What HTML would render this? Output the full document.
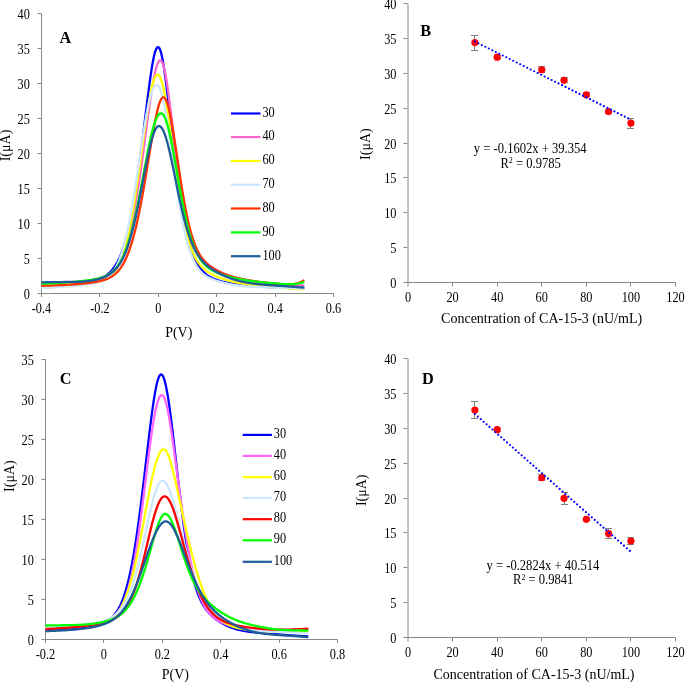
<!DOCTYPE html>
<html><head><meta charset="utf-8"><title>CA-15-3 DPV figure</title>
<style>
html,body{margin:0;padding:0;background:#fff;}
body{width:685px;height:682px;overflow:hidden;}
svg{display:block;will-change:transform;}
text{font-family:"Liberation Serif",serif;fill:#000;}
</style></head>
<body>
<svg width="685" height="682" viewBox="0 0 685 682">
<rect width="685" height="682" fill="#fff"/>
<path d="M41.5,13.5 V297.0" stroke="#888888" stroke-width="1" fill="none"/>
<path d="M37.5,293.5 H333.5 V297.0" stroke="#888888" stroke-width="1" fill="none"/>
<text transform="translate(29.80,299.00) scale(1,1.1)" font-size="12.3" text-anchor="end" font-weight="normal" >0</text>
<path d="M37.5,258.5 H41.5" stroke="#888888" stroke-width="1"/>
<text transform="translate(29.80,264.00) scale(1,1.1)" font-size="12.3" text-anchor="end" font-weight="normal" >5</text>
<path d="M37.5,223.5 H41.5" stroke="#888888" stroke-width="1"/>
<text transform="translate(29.80,229.00) scale(1,1.1)" font-size="12.3" text-anchor="end" font-weight="normal" >10</text>
<path d="M37.5,188.5 H41.5" stroke="#888888" stroke-width="1"/>
<text transform="translate(29.80,194.00) scale(1,1.1)" font-size="12.3" text-anchor="end" font-weight="normal" >15</text>
<path d="M37.5,153.5 H41.5" stroke="#888888" stroke-width="1"/>
<text transform="translate(29.80,159.00) scale(1,1.1)" font-size="12.3" text-anchor="end" font-weight="normal" >20</text>
<path d="M37.5,118.5 H41.5" stroke="#888888" stroke-width="1"/>
<text transform="translate(29.80,124.00) scale(1,1.1)" font-size="12.3" text-anchor="end" font-weight="normal" >25</text>
<path d="M37.5,83.5 H41.5" stroke="#888888" stroke-width="1"/>
<text transform="translate(29.80,89.00) scale(1,1.1)" font-size="12.3" text-anchor="end" font-weight="normal" >30</text>
<path d="M37.5,48.5 H41.5" stroke="#888888" stroke-width="1"/>
<text transform="translate(29.80,54.00) scale(1,1.1)" font-size="12.3" text-anchor="end" font-weight="normal" >35</text>
<path d="M37.5,13.5 H41.5" stroke="#888888" stroke-width="1"/>
<text transform="translate(29.80,19.00) scale(1,1.1)" font-size="12.3" text-anchor="end" font-weight="normal" >40</text>
<text transform="translate(41.50,312.90) scale(1,1.1)" font-size="12.3" text-anchor="middle" font-weight="normal" >-0.4</text>
<path d="M99.5,293.5 V297.0" stroke="#888888" stroke-width="1"/>
<text transform="translate(99.90,312.90) scale(1,1.1)" font-size="12.3" text-anchor="middle" font-weight="normal" >-0.2</text>
<path d="M158.5,293.5 V297.0" stroke="#888888" stroke-width="1"/>
<text transform="translate(158.30,312.90) scale(1,1.1)" font-size="12.3" text-anchor="middle" font-weight="normal" >0</text>
<path d="M216.5,293.5 V297.0" stroke="#888888" stroke-width="1"/>
<text transform="translate(216.70,312.90) scale(1,1.1)" font-size="12.3" text-anchor="middle" font-weight="normal" >0.2</text>
<path d="M275.5,293.5 V297.0" stroke="#888888" stroke-width="1"/>
<text transform="translate(275.10,312.90) scale(1,1.1)" font-size="12.3" text-anchor="middle" font-weight="normal" >0.4</text>
<text transform="translate(333.50,312.90) scale(1,1.1)" font-size="12.3" text-anchor="middle" font-weight="normal" >0.6</text>
<text x="178.75" y="336.70" font-size="14" text-anchor="middle" font-weight="normal" >P(V)</text>
<text transform="translate(9.8,145.5) rotate(-90)" font-size="14" text-anchor="middle">I(μA)</text>
<text x="59.50" y="42.60" font-size="16.3" text-anchor="start" font-weight="bold" >A</text>
<path d="M41.50,287.55 L42.23,287.51 L42.96,287.47 L43.69,287.43 L44.42,287.39 L45.15,287.35 L45.88,287.31 L46.61,287.27 L47.34,287.22 L48.07,287.18 L48.80,287.13 L49.53,287.09 L50.26,287.04 L50.99,286.99 L51.72,286.95 L52.45,286.90 L53.18,286.85 L53.91,286.79 L54.64,286.74 L55.37,286.69 L56.10,286.63 L56.83,286.58 L57.56,286.52 L58.29,286.46 L59.02,286.40 L59.75,286.34 L60.48,286.28 L61.21,286.22 L61.94,286.15 L62.67,286.09 L63.40,286.02 L64.13,285.95 L64.86,285.88 L65.59,285.81 L66.32,285.74 L67.05,285.66 L67.78,285.58 L68.51,285.51 L69.24,285.43 L69.97,285.34 L70.70,285.26 L71.43,285.17 L72.16,285.09 L72.89,284.99 L73.62,284.90 L74.35,284.81 L75.08,284.71 L75.81,284.61 L76.54,284.51 L77.27,284.40 L78.00,284.30 L78.73,284.19 L79.46,284.07 L80.19,283.96 L80.92,283.84 L81.65,283.71 L82.38,283.59 L83.11,283.46 L83.84,283.32 L84.57,283.19 L85.30,283.04 L86.03,282.90 L86.76,282.75 L87.49,282.59 L88.22,282.43 L88.95,282.26 L89.68,282.09 L90.41,281.91 L91.14,281.73 L91.87,281.53 L92.60,281.33 L93.33,281.13 L94.06,280.91 L94.79,280.69 L95.52,280.45 L96.25,280.21 L96.98,279.95 L97.71,279.68 L98.44,279.40 L99.17,279.11 L99.90,278.80 L100.63,278.47 L101.36,278.13 L102.09,277.77 L102.82,277.39 L103.55,276.99 L104.28,276.56 L105.01,276.11 L105.74,275.63 L106.47,275.12 L107.20,274.58 L107.93,274.00 L108.66,273.39 L109.39,272.74 L110.12,272.04 L110.85,271.30 L111.58,270.52 L112.31,269.68 L113.04,268.78 L113.77,267.82 L114.50,266.80 L115.23,265.71 L115.96,264.56 L116.69,263.32 L117.42,262.00 L118.15,260.60 L118.88,259.11 L119.61,257.53 L120.34,255.84 L121.07,254.05 L121.80,252.15 L122.53,250.14 L123.26,248.01 L123.99,245.76 L124.72,243.37 L125.45,240.86 L126.18,238.21 L126.91,235.42 L127.64,232.49 L128.37,229.41 L129.10,226.17 L129.83,222.79 L130.56,219.25 L131.29,215.55 L132.02,211.70 L132.75,207.69 L133.48,203.51 L134.21,199.18 L134.94,194.69 L135.67,190.05 L136.40,185.25 L137.13,180.30 L137.86,175.21 L138.59,169.98 L139.32,164.62 L140.05,159.13 L140.78,153.53 L141.51,147.82 L142.24,142.03 L142.97,136.15 L143.70,130.22 L144.43,124.24 L145.16,118.25 L145.89,112.26 L146.62,106.30 L147.35,100.41 L148.08,94.60 L148.81,88.94 L149.54,83.44 L150.27,78.16 L151.00,73.14 L151.73,68.42 L152.46,64.06 L153.19,60.10 L153.92,56.59 L154.65,53.58 L155.38,51.09 L156.11,49.17 L156.84,47.84 L157.57,47.13 L158.30,47.04 L159.03,47.63 L159.76,48.89 L160.49,50.81 L161.22,53.36 L161.95,56.50 L162.68,60.18 L163.41,64.36 L164.14,68.98 L164.87,73.99 L165.60,79.32 L166.33,84.94 L167.06,90.79 L167.79,96.81 L168.52,102.97 L169.25,109.22 L169.98,115.53 L170.71,121.86 L171.44,128.18 L172.17,134.46 L172.90,140.69 L173.63,146.84 L174.36,152.89 L175.09,158.82 L175.82,164.64 L176.55,170.31 L177.28,175.83 L178.01,181.20 L178.74,186.41 L179.47,191.45 L180.20,196.31 L180.93,201.00 L181.66,205.52 L182.39,209.85 L183.12,214.01 L183.85,217.98 L184.58,221.78 L185.31,225.40 L186.04,228.85 L186.77,232.13 L187.50,235.25 L188.23,238.20 L188.96,240.99 L189.69,243.64 L190.42,246.13 L191.15,248.48 L191.88,250.69 L192.61,252.77 L193.34,254.73 L194.07,256.56 L194.80,258.28 L195.53,259.89 L196.26,261.40 L196.99,262.81 L197.72,264.13 L198.45,265.36 L199.18,266.51 L199.91,267.59 L200.64,268.59 L201.37,269.52 L202.10,270.40 L202.83,271.21 L203.56,271.97 L204.29,272.69 L205.02,273.35 L205.75,273.97 L206.48,274.56 L207.21,275.10 L207.94,275.61 L208.67,276.09 L209.40,276.55 L210.13,276.97 L210.86,277.37 L211.59,277.75 L212.32,278.11 L213.05,278.44 L213.78,278.76 L214.51,279.07 L215.24,279.36 L215.97,279.63 L216.70,279.89 L217.43,280.14 L218.16,280.38 L218.89,280.61 L219.62,280.83 L220.35,281.04 L221.08,281.24 L221.81,281.44 L222.54,281.62 L223.27,281.80 L224.00,281.98 L224.73,282.15 L225.46,282.31 L226.19,282.47 L226.92,282.62 L227.65,282.76 L228.38,282.91 L229.11,283.05 L229.84,283.18 L230.57,283.31 L231.30,283.44 L232.03,283.56 L232.76,283.68 L233.49,283.80 L234.22,283.91 L234.95,284.02 L235.68,284.13 L236.41,284.23 L237.14,284.33 L237.87,284.43 L238.60,284.53 L239.33,284.62 L240.06,284.71 L240.79,284.80 L241.52,284.89 L242.25,284.98 L242.98,285.06 L243.71,285.14 L244.44,285.22 L245.17,285.30 L245.90,285.37 L246.63,285.45 L247.36,285.52 L248.09,285.59 L248.82,285.66 L249.55,285.72 L250.28,285.79 L251.01,285.85 L251.74,285.91 L252.47,285.98 L253.20,286.04 L253.93,286.09 L254.66,286.15 L255.39,286.21 L256.12,286.26 L256.85,286.31 L257.58,286.37 L258.31,286.42 L259.04,286.47 L259.77,286.52 L260.50,286.56 L261.23,286.61 L261.96,286.66 L262.69,286.70 L263.42,286.75 L264.15,286.79 L264.88,286.83 L265.61,286.87 L266.34,286.91 L267.07,286.95 L267.80,286.99 L268.53,287.03 L269.26,287.07 L269.99,287.11 L270.72,287.14 L271.45,287.18 L272.18,287.21 L272.91,287.25 L273.64,287.28 L274.37,287.31 L275.10,287.34 L275.83,287.37 L276.56,287.41 L277.29,287.44 L278.02,287.47 L278.75,287.50 L279.48,287.52 L280.21,287.55 L280.94,287.58 L281.67,287.61 L282.40,287.63 L283.13,287.66 L283.86,287.69 L284.59,287.71 L285.32,287.74 L286.05,287.76 L286.78,287.78 L287.51,287.81 L288.24,287.83 L288.97,287.85 L289.70,287.87 L290.43,287.90 L291.16,287.92 L291.89,287.94 L292.62,287.96 L293.35,287.98 L294.08,288.00 L294.81,288.02 L295.54,288.04 L296.27,288.06 L297.00,288.08 L297.73,288.10 L298.46,288.11 L299.19,288.13 L299.92,288.15 L300.65,288.17 L301.38,288.18 L302.11,288.20 L302.84,288.22 L303.57,288.23 L304.30,288.25" stroke="#0000ff" stroke-width="2.3" fill="none" stroke-linejoin="round"/>
<path d="M41.50,286.85 L42.23,286.81 L42.96,286.78 L43.69,286.74 L44.42,286.70 L45.15,286.67 L45.88,286.63 L46.61,286.59 L47.34,286.55 L48.07,286.51 L48.80,286.47 L49.53,286.42 L50.26,286.38 L50.99,286.34 L51.72,286.29 L52.45,286.25 L53.18,286.20 L53.91,286.15 L54.64,286.11 L55.37,286.06 L56.10,286.01 L56.83,285.96 L57.56,285.90 L58.29,285.85 L59.02,285.80 L59.75,285.74 L60.48,285.69 L61.21,285.63 L61.94,285.57 L62.67,285.51 L63.40,285.45 L64.13,285.39 L64.86,285.32 L65.59,285.26 L66.32,285.19 L67.05,285.12 L67.78,285.05 L68.51,284.98 L69.24,284.91 L69.97,284.84 L70.70,284.76 L71.43,284.68 L72.16,284.60 L72.89,284.52 L73.62,284.44 L74.35,284.35 L75.08,284.27 L75.81,284.18 L76.54,284.09 L77.27,283.99 L78.00,283.90 L78.73,283.80 L79.46,283.70 L80.19,283.60 L80.92,283.49 L81.65,283.38 L82.38,283.27 L83.11,283.16 L83.84,283.04 L84.57,282.92 L85.30,282.79 L86.03,282.66 L86.76,282.53 L87.49,282.40 L88.22,282.26 L88.95,282.11 L89.68,281.96 L90.41,281.81 L91.14,281.65 L91.87,281.49 L92.60,281.32 L93.33,281.14 L94.06,280.96 L94.79,280.77 L95.52,280.57 L96.25,280.36 L96.98,280.15 L97.71,279.93 L98.44,279.69 L99.17,279.45 L99.90,279.19 L100.63,278.92 L101.36,278.64 L102.09,278.35 L102.82,278.03 L103.55,277.70 L104.28,277.36 L105.01,276.99 L105.74,276.60 L106.47,276.18 L107.20,275.75 L107.93,275.28 L108.66,274.78 L109.39,274.26 L110.12,273.69 L110.85,273.09 L111.58,272.45 L112.31,271.77 L113.04,271.04 L113.77,270.26 L114.50,269.42 L115.23,268.53 L115.96,267.58 L116.69,266.56 L117.42,265.48 L118.15,264.32 L118.88,263.08 L119.61,261.75 L120.34,260.34 L121.07,258.84 L121.80,257.24 L122.53,255.54 L123.26,253.73 L123.99,251.82 L124.72,249.78 L125.45,247.62 L126.18,245.34 L126.91,242.93 L127.64,240.39 L128.37,237.71 L129.10,234.89 L129.83,231.92 L130.56,228.81 L131.29,225.55 L132.02,222.14 L132.75,218.58 L133.48,214.87 L134.21,211.01 L134.94,207.00 L135.67,202.84 L136.40,198.53 L137.13,194.08 L137.86,189.50 L138.59,184.78 L139.32,179.93 L140.05,174.97 L140.78,169.89 L141.51,164.72 L142.24,159.45 L142.97,154.11 L143.70,148.70 L144.43,143.24 L145.16,137.75 L145.89,132.25 L146.62,126.76 L147.35,121.29 L148.08,115.88 L148.81,110.54 L149.54,105.31 L150.27,100.22 L151.00,95.28 L151.73,90.55 L152.46,86.04 L153.19,81.79 L153.92,77.84 L154.65,74.21 L155.38,70.95 L156.11,68.08 L156.84,65.62 L157.57,63.61 L158.30,62.06 L159.03,60.99 L159.76,60.41 L160.49,60.33 L161.22,60.82 L161.95,61.89 L162.68,63.52 L163.41,65.70 L164.14,68.41 L164.87,71.62 L165.60,75.31 L166.33,79.43 L167.06,83.96 L167.79,88.85 L168.52,94.06 L169.25,99.54 L169.98,105.26 L170.71,111.17 L171.44,117.22 L172.17,123.37 L172.90,129.59 L173.63,135.83 L174.36,142.05 L175.09,148.22 L175.82,154.32 L176.55,160.30 L177.28,166.15 L178.01,171.84 L178.74,177.36 L179.47,182.68 L180.20,187.80 L180.93,192.71 L181.66,197.40 L182.39,201.87 L183.12,206.11 L183.85,210.12 L184.58,213.91 L185.31,217.49 L186.04,220.86 L186.77,224.01 L187.50,226.98 L188.23,229.75 L188.96,232.35 L189.69,234.77 L190.42,237.04 L191.15,239.15 L191.88,241.13 L192.61,242.98 L193.34,244.70 L194.07,246.32 L194.80,247.83 L195.53,249.24 L196.26,250.57 L196.99,251.82 L197.72,253.00 L198.45,254.11 L199.18,255.15 L199.91,256.14 L200.64,257.08 L201.37,257.97 L202.10,258.82 L202.83,259.63 L203.56,260.40 L204.29,261.14 L205.02,261.85 L205.75,262.53 L206.48,263.18 L207.21,263.80 L207.94,264.41 L208.67,264.99 L209.40,265.55 L210.13,266.09 L210.86,266.61 L211.59,267.12 L212.32,267.61 L213.05,268.08 L213.78,268.54 L214.51,268.98 L215.24,269.41 L215.97,269.83 L216.70,270.24 L217.43,270.63 L218.16,271.01 L218.89,271.38 L219.62,271.74 L220.35,272.09 L221.08,272.43 L221.81,272.76 L222.54,273.09 L223.27,273.40 L224.00,273.70 L224.73,274.00 L225.46,274.29 L226.19,274.57 L226.92,274.84 L227.65,275.10 L228.38,275.36 L229.11,275.61 L229.84,275.86 L230.57,276.10 L231.30,276.33 L232.03,276.56 L232.76,276.78 L233.49,276.99 L234.22,277.20 L234.95,277.41 L235.68,277.61 L236.41,277.80 L237.14,277.99 L237.87,278.18 L238.60,278.36 L239.33,278.54 L240.06,278.71 L240.79,278.88 L241.52,279.04 L242.25,279.20 L242.98,279.36 L243.71,279.51 L244.44,279.66 L245.17,279.81 L245.90,279.95 L246.63,280.09 L247.36,280.23 L248.09,280.36 L248.82,280.49 L249.55,280.62 L250.28,280.75 L251.01,280.87 L251.74,280.99 L252.47,281.11 L253.20,281.22 L253.93,281.33 L254.66,281.44 L255.39,281.55 L256.12,281.66 L256.85,281.76 L257.58,281.86 L258.31,281.96 L259.04,282.06 L259.77,282.15 L260.50,282.24 L261.23,282.34 L261.96,282.43 L262.69,282.51 L263.42,282.60 L264.15,282.68 L264.88,282.77 L265.61,282.85 L266.34,282.93 L267.07,283.00 L267.80,283.08 L268.53,283.16 L269.26,283.23 L269.99,283.30 L270.72,283.37 L271.45,283.44 L272.18,283.51 L272.91,283.58 L273.64,283.64 L274.37,283.71 L275.10,283.77 L275.83,283.83 L276.56,283.89 L277.29,283.95 L278.02,284.01 L278.75,284.07 L279.48,284.13 L280.21,284.18 L280.94,284.24 L281.67,284.29 L282.40,284.35 L283.13,284.40 L283.86,284.45 L284.59,284.50 L285.32,284.55 L286.05,284.60 L286.78,284.65 L287.51,284.69 L288.24,284.74 L288.97,284.79 L289.70,284.83 L290.43,284.87 L291.16,284.92 L291.89,284.96 L292.62,285.00 L293.35,285.04 L294.08,285.08 L294.81,285.12 L295.54,285.16 L296.27,285.20 L297.00,285.24 L297.73,285.28 L298.46,285.31 L299.19,285.35 L299.92,285.39 L300.65,285.42 L301.38,285.46 L302.11,285.49 L302.84,285.52 L303.57,285.56 L304.30,285.59" stroke="#ff66cc" stroke-width="2.3" fill="none" stroke-linejoin="round"/>
<path d="M41.50,287.55 L42.23,287.53 L42.96,287.50 L43.69,287.48 L44.42,287.46 L45.15,287.43 L45.88,287.41 L46.61,287.38 L47.34,287.35 L48.07,287.33 L48.80,287.30 L49.53,287.27 L50.26,287.24 L50.99,287.21 L51.72,287.18 L52.45,287.15 L53.18,287.11 L53.91,287.08 L54.64,287.05 L55.37,287.01 L56.10,286.98 L56.83,286.94 L57.56,286.90 L58.29,286.87 L59.02,286.83 L59.75,286.79 L60.48,286.75 L61.21,286.70 L61.94,286.66 L62.67,286.62 L63.40,286.57 L64.13,286.52 L64.86,286.48 L65.59,286.43 L66.32,286.38 L67.05,286.33 L67.78,286.27 L68.51,286.22 L69.24,286.17 L69.97,286.11 L70.70,286.05 L71.43,285.99 L72.16,285.93 L72.89,285.87 L73.62,285.80 L74.35,285.74 L75.08,285.67 L75.81,285.60 L76.54,285.53 L77.27,285.45 L78.00,285.38 L78.73,285.30 L79.46,285.22 L80.19,285.14 L80.92,285.05 L81.65,284.96 L82.38,284.87 L83.11,284.78 L83.84,284.69 L84.57,284.59 L85.30,284.49 L86.03,284.38 L86.76,284.28 L87.49,284.17 L88.22,284.05 L88.95,283.93 L89.68,283.81 L90.41,283.68 L91.14,283.55 L91.87,283.41 L92.60,283.27 L93.33,283.12 L94.06,282.97 L94.79,282.80 L95.52,282.63 L96.25,282.46 L96.98,282.27 L97.71,282.07 L98.44,281.86 L99.17,281.65 L99.90,281.41 L100.63,281.17 L101.36,280.91 L102.09,280.63 L102.82,280.33 L103.55,280.02 L104.28,279.68 L105.01,279.32 L105.74,278.93 L106.47,278.51 L107.20,278.06 L107.93,277.58 L108.66,277.06 L109.39,276.50 L110.12,275.89 L110.85,275.24 L111.58,274.54 L112.31,273.78 L113.04,272.96 L113.77,272.08 L114.50,271.14 L115.23,270.11 L115.96,269.01 L116.69,267.83 L117.42,266.56 L118.15,265.20 L118.88,263.74 L119.61,262.17 L120.34,260.50 L121.07,258.71 L121.80,256.80 L122.53,254.76 L123.26,252.60 L123.99,250.31 L124.72,247.87 L125.45,245.29 L126.18,242.57 L126.91,239.70 L127.64,236.68 L128.37,233.50 L129.10,230.17 L129.83,226.68 L130.56,223.04 L131.29,219.24 L132.02,215.29 L132.75,211.19 L133.48,206.95 L134.21,202.56 L134.94,198.03 L135.67,193.37 L136.40,188.59 L137.13,183.70 L137.86,178.71 L138.59,173.63 L139.32,168.47 L140.05,163.25 L140.78,157.98 L141.51,152.68 L142.24,147.37 L142.97,142.07 L143.70,136.79 L144.43,131.57 L145.16,126.43 L145.89,121.38 L146.62,116.46 L147.35,111.68 L148.08,107.09 L148.81,102.69 L149.54,98.53 L150.27,94.62 L151.00,91.00 L151.73,87.68 L152.46,84.70 L153.19,82.06 L153.92,79.80 L154.65,77.93 L155.38,76.46 L156.11,75.42 L156.84,74.79 L157.57,74.60 L158.30,74.84 L159.03,75.51 L159.76,76.60 L160.49,78.11 L161.22,80.02 L161.95,82.34 L162.68,85.03 L163.41,88.08 L164.14,91.47 L164.87,95.19 L165.60,99.20 L166.33,103.48 L167.06,108.01 L167.79,112.75 L168.52,117.68 L169.25,122.77 L169.98,127.99 L170.71,133.31 L171.44,138.70 L172.17,144.14 L172.90,149.60 L173.63,155.05 L174.36,160.48 L175.09,165.85 L175.82,171.15 L176.55,176.36 L177.28,181.46 L178.01,186.44 L178.74,191.29 L179.47,195.99 L180.20,200.53 L180.93,204.91 L181.66,209.12 L182.39,213.16 L183.12,217.02 L183.85,220.71 L184.58,224.22 L185.31,227.55 L186.04,230.71 L186.77,233.69 L187.50,236.51 L188.23,239.17 L188.96,241.67 L189.69,244.02 L190.42,246.23 L191.15,248.30 L191.88,250.23 L192.61,252.05 L193.34,253.74 L194.07,255.32 L194.80,256.80 L195.53,258.18 L196.26,259.47 L196.99,260.67 L197.72,261.80 L198.45,262.85 L199.18,263.84 L199.91,264.76 L200.64,265.62 L201.37,266.44 L202.10,267.20 L202.83,267.92 L203.56,268.59 L204.29,269.23 L205.02,269.84 L205.75,270.41 L206.48,270.96 L207.21,271.47 L207.94,271.97 L208.67,272.44 L209.40,272.89 L210.13,273.32 L210.86,273.73 L211.59,274.13 L212.32,274.51 L213.05,274.88 L213.78,275.23 L214.51,275.58 L215.24,275.91 L215.97,276.23 L216.70,276.54 L217.43,276.84 L218.16,277.13 L218.89,277.42 L219.62,277.69 L220.35,277.96 L221.08,278.22 L221.81,278.48 L222.54,278.73 L223.27,278.97 L224.00,279.20 L224.73,279.43 L225.46,279.65 L226.19,279.87 L226.92,280.08 L227.65,280.29 L228.38,280.49 L229.11,280.69 L229.84,280.89 L230.57,281.07 L231.30,281.26 L232.03,281.44 L232.76,281.61 L233.49,281.78 L234.22,281.95 L234.95,282.12 L235.68,282.28 L236.41,282.43 L237.14,282.59 L237.87,282.74 L238.60,282.88 L239.33,283.03 L240.06,283.17 L240.79,283.31 L241.52,283.44 L242.25,283.57 L242.98,283.70 L243.71,283.83 L244.44,283.95 L245.17,284.07 L245.90,284.19 L246.63,284.31 L247.36,284.42 L248.09,284.54 L248.82,284.65 L249.55,284.75 L250.28,284.86 L251.01,284.96 L251.74,285.06 L252.47,285.16 L253.20,285.26 L253.93,285.36 L254.66,285.45 L255.39,285.54 L256.12,285.63 L256.85,285.72 L257.58,285.81 L258.31,285.90 L259.04,285.98 L259.77,286.06 L260.50,286.15 L261.23,286.23 L261.96,286.30 L262.69,286.38 L263.42,286.46 L264.15,286.53 L264.88,286.61 L265.61,286.68 L266.34,286.75 L267.07,286.82 L267.80,286.89 L268.53,286.96 L269.26,287.02 L269.99,287.09 L270.72,287.15 L271.45,287.22 L272.18,287.28 L272.91,287.34 L273.64,287.40 L274.37,287.46 L275.10,287.52 L275.83,287.58 L276.56,287.63 L277.29,287.69 L278.02,287.74 L278.75,287.80 L279.48,287.85 L280.21,287.90 L280.94,287.96 L281.67,288.01 L282.40,288.06 L283.13,288.11 L283.86,288.16 L284.59,288.21 L285.32,288.25 L286.05,288.30 L286.78,288.35 L287.51,288.39 L288.24,288.44 L288.97,288.48 L289.70,288.53 L290.43,288.57 L291.16,288.61 L291.89,288.66 L292.62,288.70 L293.35,288.74 L294.08,288.78 L294.81,288.82 L295.54,288.86 L296.27,288.90 L297.00,288.94 L297.73,288.98 L298.46,289.01 L299.19,289.05 L299.92,289.09 L300.65,289.12 L301.38,289.16 L302.11,289.20 L302.84,289.23 L303.57,289.27 L304.30,289.30" stroke="#ffff00" stroke-width="2.3" fill="none" stroke-linejoin="round"/>
<path d="M41.50,287.90 L42.23,287.87 L42.96,287.84 L43.69,287.81 L44.42,287.78 L45.15,287.75 L45.88,287.72 L46.61,287.69 L47.34,287.66 L48.07,287.63 L48.80,287.59 L49.53,287.56 L50.26,287.52 L50.99,287.49 L51.72,287.45 L52.45,287.41 L53.18,287.38 L53.91,287.34 L54.64,287.30 L55.37,287.26 L56.10,287.22 L56.83,287.18 L57.56,287.13 L58.29,287.09 L59.02,287.04 L59.75,287.00 L60.48,286.95 L61.21,286.91 L61.94,286.86 L62.67,286.81 L63.40,286.76 L64.13,286.71 L64.86,286.65 L65.59,286.60 L66.32,286.54 L67.05,286.49 L67.78,286.43 L68.51,286.37 L69.24,286.31 L69.97,286.25 L70.70,286.19 L71.43,286.13 L72.16,286.06 L72.89,286.00 L73.62,285.93 L74.35,285.86 L75.08,285.79 L75.81,285.72 L76.54,285.64 L77.27,285.57 L78.00,285.49 L78.73,285.42 L79.46,285.34 L80.19,285.26 L80.92,285.17 L81.65,285.09 L82.38,285.00 L83.11,284.91 L83.84,284.82 L84.57,284.73 L85.30,284.64 L86.03,284.54 L86.76,284.44 L87.49,284.34 L88.22,284.24 L88.95,284.13 L89.68,284.02 L90.41,283.91 L91.14,283.79 L91.87,283.66 L92.60,283.53 L93.33,283.40 L94.06,283.26 L94.79,283.11 L95.52,282.95 L96.25,282.78 L96.98,282.61 L97.71,282.42 L98.44,282.22 L99.17,282.00 L99.90,281.77 L100.63,281.52 L101.36,281.25 L102.09,280.96 L102.82,280.64 L103.55,280.30 L104.28,279.93 L105.01,279.53 L105.74,279.09 L106.47,278.61 L107.20,278.09 L107.93,277.53 L108.66,276.92 L109.39,276.26 L110.12,275.53 L110.85,274.75 L111.58,273.91 L112.31,272.99 L113.04,272.00 L113.77,270.93 L114.50,269.78 L115.23,268.54 L115.96,267.20 L116.69,265.77 L117.42,264.24 L118.15,262.59 L118.88,260.84 L119.61,258.97 L120.34,256.98 L121.07,254.86 L121.80,252.62 L122.53,250.25 L123.26,247.74 L123.99,245.09 L124.72,242.30 L125.45,239.37 L126.18,236.30 L126.91,233.09 L127.64,229.73 L128.37,226.24 L129.10,222.60 L129.83,218.82 L130.56,214.91 L131.29,210.87 L132.02,206.70 L132.75,202.42 L133.48,198.02 L134.21,193.52 L134.94,188.92 L135.67,184.24 L136.40,179.48 L137.13,174.66 L137.86,169.80 L138.59,164.90 L139.32,159.99 L140.05,155.07 L140.78,150.18 L141.51,145.32 L142.24,140.52 L142.97,135.79 L143.70,131.16 L144.43,126.64 L145.16,122.27 L145.89,118.05 L146.62,114.01 L147.35,110.16 L148.08,106.53 L148.81,103.13 L149.54,99.99 L150.27,97.10 L151.00,94.50 L151.73,92.18 L152.46,90.17 L153.19,88.47 L153.92,87.09 L154.65,86.04 L155.38,85.33 L156.11,84.96 L156.84,84.93 L157.57,85.28 L158.30,86.00 L159.03,87.09 L159.76,88.56 L160.49,90.39 L161.22,92.57 L161.95,95.10 L162.68,97.95 L163.41,101.12 L164.14,104.58 L164.87,108.32 L165.60,112.32 L166.33,116.54 L167.06,120.97 L167.79,125.58 L168.52,130.35 L169.25,135.25 L169.98,140.26 L170.71,145.34 L171.44,150.48 L172.17,155.64 L172.90,160.82 L173.63,165.98 L174.36,171.11 L175.09,176.19 L175.82,181.19 L176.55,186.11 L177.28,190.93 L178.01,195.63 L178.74,200.22 L179.47,204.66 L180.20,208.97 L180.93,213.13 L181.66,217.13 L182.39,220.97 L183.12,224.66 L183.85,228.18 L184.58,231.54 L185.31,234.74 L186.04,237.77 L186.77,240.65 L187.50,243.37 L188.23,245.94 L188.96,248.36 L189.69,250.64 L190.42,252.78 L191.15,254.78 L191.88,256.66 L192.61,258.42 L193.34,260.06 L194.07,261.60 L194.80,263.03 L195.53,264.36 L196.26,265.60 L196.99,266.75 L197.72,267.83 L198.45,268.83 L199.18,269.76 L199.91,270.62 L200.64,271.42 L201.37,272.17 L202.10,272.87 L202.83,273.52 L203.56,274.13 L204.29,274.70 L205.02,275.23 L205.75,275.73 L206.48,276.20 L207.21,276.64 L207.94,277.05 L208.67,277.45 L209.40,277.82 L210.13,278.17 L210.86,278.50 L211.59,278.82 L212.32,279.13 L213.05,279.42 L213.78,279.70 L214.51,279.97 L215.24,280.23 L215.97,280.47 L216.70,280.72 L217.43,280.95 L218.16,281.18 L218.89,281.39 L219.62,281.61 L220.35,281.82 L221.08,282.02 L221.81,282.22 L222.54,282.41 L223.27,282.60 L224.00,282.78 L224.73,282.96 L225.46,283.13 L226.19,283.30 L226.92,283.47 L227.65,283.63 L228.38,283.79 L229.11,283.94 L229.84,284.09 L230.57,284.24 L231.30,284.38 L232.03,284.52 L232.76,284.65 L233.49,284.78 L234.22,284.91 L234.95,285.03 L235.68,285.15 L236.41,285.26 L237.14,285.37 L237.87,285.47 L238.60,285.57 L239.33,285.67 L240.06,285.76 L240.79,285.84 L241.52,285.93 L242.25,286.00 L242.98,286.08 L243.71,286.15 L244.44,286.22 L245.17,286.28 L245.90,286.34 L246.63,286.39 L247.36,286.45 L248.09,286.50 L248.82,286.54 L249.55,286.59 L250.28,286.63 L251.01,286.67 L251.74,286.71 L252.47,286.75 L253.20,286.78 L253.93,286.81 L254.66,286.85 L255.39,286.88 L256.12,286.91 L256.85,286.93 L257.58,286.96 L258.31,286.99 L259.04,287.02 L259.77,287.04 L260.50,287.07 L261.23,287.10 L261.96,287.12 L262.69,287.15 L263.42,287.18 L264.15,287.20 L264.88,287.23 L265.61,287.25 L266.34,287.28 L267.07,287.31 L267.80,287.34 L268.53,287.36 L269.26,287.39 L269.99,287.42 L270.72,287.45 L271.45,287.48 L272.18,287.50 L272.91,287.53 L273.64,287.56 L274.37,287.59 L275.10,287.62 L275.83,287.65 L276.56,287.68 L277.29,287.71 L278.02,287.73 L278.75,287.76 L279.48,287.79 L280.21,287.82 L280.94,287.85 L281.67,287.88 L282.40,287.90 L283.13,287.93 L283.86,287.96 L284.59,287.98 L285.32,288.01 L286.05,288.04 L286.78,288.06 L287.51,288.09 L288.24,288.11 L288.97,288.14 L289.70,288.17 L290.43,288.19 L291.16,288.21 L291.89,288.24 L292.62,288.26 L293.35,288.29 L294.08,288.31 L294.81,288.33 L295.54,288.35 L296.27,288.38 L297.00,288.40 L297.73,288.42 L298.46,288.44 L299.19,288.46 L299.92,288.48 L300.65,288.50 L301.38,288.52 L302.11,288.54 L302.84,288.56 L303.57,288.58 L304.30,288.60" stroke="#cce6ff" stroke-width="2.3" fill="none" stroke-linejoin="round"/>
<path d="M41.50,285.80 L42.23,285.78 L42.96,285.76 L43.69,285.74 L44.42,285.72 L45.15,285.70 L45.88,285.67 L46.61,285.65 L47.34,285.63 L48.07,285.61 L48.80,285.58 L49.53,285.56 L50.26,285.53 L50.99,285.51 L51.72,285.48 L52.45,285.46 L53.18,285.43 L53.91,285.40 L54.64,285.37 L55.37,285.34 L56.10,285.31 L56.83,285.29 L57.56,285.25 L58.29,285.22 L59.02,285.19 L59.75,285.16 L60.48,285.13 L61.21,285.09 L61.94,285.06 L62.67,285.02 L63.40,284.98 L64.13,284.95 L64.86,284.91 L65.59,284.87 L66.32,284.83 L67.05,284.79 L67.78,284.75 L68.51,284.70 L69.24,284.66 L69.97,284.62 L70.70,284.57 L71.43,284.52 L72.16,284.48 L72.89,284.43 L73.62,284.38 L74.35,284.32 L75.08,284.27 L75.81,284.22 L76.54,284.16 L77.27,284.10 L78.00,284.05 L78.73,283.99 L79.46,283.92 L80.19,283.86 L80.92,283.80 L81.65,283.73 L82.38,283.66 L83.11,283.59 L83.84,283.52 L84.57,283.44 L85.30,283.36 L86.03,283.28 L86.76,283.20 L87.49,283.12 L88.22,283.03 L88.95,282.94 L89.68,282.85 L90.41,282.75 L91.14,282.65 L91.87,282.55 L92.60,282.44 L93.33,282.33 L94.06,282.22 L94.79,282.10 L95.52,281.97 L96.25,281.84 L96.98,281.70 L97.71,281.56 L98.44,281.41 L99.17,281.25 L99.90,281.09 L100.63,280.91 L101.36,280.73 L102.09,280.54 L102.82,280.34 L103.55,280.12 L104.28,279.89 L105.01,279.65 L105.74,279.39 L106.47,279.12 L107.20,278.83 L107.93,278.52 L108.66,278.19 L109.39,277.83 L110.12,277.46 L110.85,277.05 L111.58,276.62 L112.31,276.16 L113.04,275.67 L113.77,275.14 L114.50,274.58 L115.23,273.97 L115.96,273.33 L116.69,272.63 L117.42,271.89 L118.15,271.10 L118.88,270.26 L119.61,269.35 L120.34,268.39 L121.07,267.36 L121.80,266.26 L122.53,265.09 L123.26,263.85 L123.99,262.53 L124.72,261.12 L125.45,259.63 L126.18,258.06 L126.91,256.39 L127.64,254.62 L128.37,252.76 L129.10,250.80 L129.83,248.73 L130.56,246.56 L131.29,244.27 L132.02,241.88 L132.75,239.37 L133.48,236.75 L134.21,234.02 L134.94,231.17 L135.67,228.20 L136.40,225.12 L137.13,221.92 L137.86,218.61 L138.59,215.18 L139.32,211.65 L140.05,208.00 L140.78,204.26 L141.51,200.41 L142.24,196.47 L142.97,192.43 L143.70,188.31 L144.43,184.11 L145.16,179.84 L145.89,175.52 L146.62,171.13 L147.35,166.71 L148.08,162.26 L148.81,157.79 L149.54,153.32 L150.27,148.86 L151.00,144.44 L151.73,140.06 L152.46,135.76 L153.19,131.55 L153.92,127.46 L154.65,123.51 L155.38,119.73 L156.11,116.15 L156.84,112.80 L157.57,109.71 L158.30,106.90 L159.03,104.41 L159.76,102.26 L160.49,100.47 L161.22,99.06 L161.95,98.06 L162.68,97.47 L163.41,97.30 L164.14,97.56 L164.87,98.23 L165.60,99.32 L166.33,100.82 L167.06,102.71 L167.79,104.98 L168.52,107.61 L169.25,110.58 L169.98,113.86 L170.71,117.43 L171.44,121.27 L172.17,125.33 L172.90,129.60 L173.63,134.05 L174.36,138.65 L175.09,143.36 L175.82,148.16 L176.55,153.01 L177.28,157.90 L178.01,162.80 L178.74,167.68 L179.47,172.52 L180.20,177.30 L180.93,181.99 L181.66,186.59 L182.39,191.08 L183.12,195.44 L183.85,199.67 L184.58,203.75 L185.31,207.68 L186.04,211.45 L186.77,215.05 L187.50,218.50 L188.23,221.78 L188.96,224.89 L189.69,227.84 L190.42,230.64 L191.15,233.28 L191.88,235.76 L192.61,238.10 L193.34,240.30 L194.07,242.37 L194.80,244.31 L195.53,246.13 L196.26,247.83 L196.99,249.43 L197.72,250.92 L198.45,252.32 L199.18,253.64 L199.91,254.87 L200.64,256.02 L201.37,257.11 L202.10,258.12 L202.83,259.08 L203.56,259.99 L204.29,260.84 L205.02,261.64 L205.75,262.40 L206.48,263.13 L207.21,263.81 L207.94,264.46 L208.67,265.08 L209.40,265.68 L210.13,266.24 L210.86,266.78 L211.59,267.30 L212.32,267.80 L213.05,268.28 L213.78,268.74 L214.51,269.18 L215.24,269.61 L215.97,270.03 L216.70,270.43 L217.43,270.81 L218.16,271.19 L218.89,271.55 L219.62,271.90 L220.35,272.24 L221.08,272.57 L221.81,272.89 L222.54,273.20 L223.27,273.50 L224.00,273.80 L224.73,274.08 L225.46,274.36 L226.19,274.63 L226.92,274.90 L227.65,275.15 L228.38,275.40 L229.11,275.65 L229.84,275.88 L230.57,276.11 L231.30,276.34 L232.03,276.56 L232.76,276.77 L233.49,276.98 L234.22,277.18 L234.95,277.38 L235.68,277.58 L236.41,277.76 L237.14,277.95 L237.87,278.13 L238.60,278.30 L239.33,278.48 L240.06,278.64 L240.79,278.81 L241.52,278.97 L242.25,279.12 L242.98,279.28 L243.71,279.42 L244.44,279.57 L245.17,279.71 L245.90,279.85 L246.63,279.99 L247.36,280.12 L248.09,280.25 L248.82,280.38 L249.55,280.50 L250.28,280.63 L251.01,280.75 L251.74,280.86 L252.47,280.98 L253.20,281.09 L253.93,281.20 L254.66,281.31 L255.39,281.41 L256.12,281.51 L256.85,281.62 L257.58,281.71 L258.31,281.81 L259.04,281.91 L259.77,282.00 L260.50,282.09 L261.23,282.18 L261.96,282.27 L262.69,282.36 L263.42,282.44 L264.15,282.52 L264.88,282.60 L265.61,282.68 L266.34,282.76 L267.07,282.84 L267.80,282.92 L268.53,282.99 L269.26,283.06 L269.99,283.13 L270.72,283.20 L271.45,283.27 L272.18,283.34 L272.91,283.41 L273.64,283.47 L274.37,283.54 L275.10,283.60 L275.83,283.66 L276.56,283.72 L277.29,283.78 L278.02,283.84 L278.75,283.90 L279.48,283.96 L280.21,284.01 L280.94,284.07 L281.67,284.12 L282.40,284.18 L283.13,284.23 L283.86,284.28 L284.59,284.33 L285.32,284.38 L286.05,284.43 L286.78,284.48 L287.51,284.52 L288.24,284.54 L288.97,284.54 L289.70,284.52 L290.43,284.48 L291.16,284.43 L291.89,284.35 L292.62,284.26 L293.35,284.15 L294.08,284.01 L294.81,283.86 L295.54,283.70 L296.27,283.51 L297.00,283.30 L297.73,283.07 L298.46,282.83 L299.19,282.57 L299.92,282.29 L300.65,281.98 L301.38,281.66 L302.11,281.33 L302.84,280.97 L303.57,280.59 L304.30,280.20" stroke="#ff3300" stroke-width="2.3" fill="none" stroke-linejoin="round"/>
<path d="M41.50,283.70 L42.23,283.67 L42.96,283.65 L43.69,283.62 L44.42,283.60 L45.15,283.57 L45.88,283.54 L46.61,283.51 L47.34,283.49 L48.07,283.46 L48.80,283.43 L49.53,283.40 L50.26,283.36 L50.99,283.33 L51.72,283.30 L52.45,283.27 L53.18,283.23 L53.91,283.20 L54.64,283.16 L55.37,283.12 L56.10,283.09 L56.83,283.05 L57.56,283.01 L58.29,282.97 L59.02,282.93 L59.75,282.89 L60.48,282.85 L61.21,282.80 L61.94,282.76 L62.67,282.71 L63.40,282.66 L64.13,282.62 L64.86,282.57 L65.59,282.52 L66.32,282.47 L67.05,282.42 L67.78,282.36 L68.51,282.31 L69.24,282.25 L69.97,282.20 L70.70,282.14 L71.43,282.08 L72.16,282.02 L72.89,281.95 L73.62,281.89 L74.35,281.83 L75.08,281.76 L75.81,281.69 L76.54,281.62 L77.27,281.55 L78.00,281.48 L78.73,281.41 L79.46,281.33 L80.19,281.25 L80.92,281.17 L81.65,281.09 L82.38,281.01 L83.11,280.92 L83.84,280.84 L84.57,280.75 L85.30,280.65 L86.03,280.56 L86.76,280.46 L87.49,280.36 L88.22,280.26 L88.95,280.15 L89.68,280.04 L90.41,279.93 L91.14,279.81 L91.87,279.68 L92.60,279.56 L93.33,279.43 L94.06,279.29 L94.79,279.14 L95.52,278.99 L96.25,278.84 L96.98,278.67 L97.71,278.50 L98.44,278.32 L99.17,278.13 L99.90,277.93 L100.63,277.72 L101.36,277.50 L102.09,277.27 L102.82,277.02 L103.55,276.75 L104.28,276.47 L105.01,276.17 L105.74,275.85 L106.47,275.51 L107.20,275.15 L107.93,274.76 L108.66,274.34 L109.39,273.90 L110.12,273.42 L110.85,272.91 L111.58,272.37 L112.31,271.78 L113.04,271.15 L113.77,270.48 L114.50,269.76 L115.23,268.99 L115.96,268.17 L116.69,267.28 L117.42,266.34 L118.15,265.33 L118.88,264.26 L119.61,263.11 L120.34,261.89 L121.07,260.59 L121.80,259.21 L122.53,257.74 L123.26,256.19 L123.99,254.54 L124.72,252.80 L125.45,250.96 L126.18,249.02 L126.91,246.98 L127.64,244.84 L128.37,242.59 L129.10,240.23 L129.83,237.77 L130.56,235.19 L131.29,232.51 L132.02,229.72 L132.75,226.82 L133.48,223.82 L134.21,220.72 L134.94,217.51 L135.67,214.21 L136.40,210.81 L137.13,207.33 L137.86,203.76 L138.59,200.12 L139.32,196.41 L140.05,192.64 L140.78,188.82 L141.51,184.95 L142.24,181.05 L142.97,177.13 L143.70,173.20 L144.43,169.28 L145.16,165.37 L145.89,161.49 L146.62,157.67 L147.35,153.90 L148.08,150.21 L148.81,146.62 L149.54,143.13 L150.27,139.77 L151.00,136.55 L151.73,133.49 L152.46,130.59 L153.19,127.89 L153.92,125.37 L154.65,123.07 L155.38,120.99 L156.11,119.14 L156.84,117.53 L157.57,116.17 L158.30,115.07 L159.03,114.23 L159.76,113.65 L160.49,113.35 L161.22,113.32 L161.95,113.60 L162.68,114.17 L163.41,115.04 L164.14,116.22 L164.87,117.68 L165.60,119.43 L166.33,121.46 L167.06,123.75 L167.79,126.29 L168.52,129.07 L169.25,132.08 L169.98,135.29 L170.71,138.68 L171.44,142.25 L172.17,145.95 L172.90,149.79 L173.63,153.73 L174.36,157.76 L175.09,161.85 L175.82,165.99 L176.55,170.15 L177.28,174.32 L178.01,178.48 L178.74,182.61 L179.47,186.70 L180.20,190.74 L180.93,194.71 L181.66,198.59 L182.39,202.39 L183.12,206.09 L183.85,209.69 L184.58,213.17 L185.31,216.54 L186.04,219.78 L186.77,222.89 L187.50,225.88 L188.23,228.75 L188.96,231.48 L189.69,234.08 L190.42,236.56 L191.15,238.91 L191.88,241.14 L192.61,243.25 L193.34,245.25 L194.07,247.13 L194.80,248.90 L195.53,250.57 L196.26,252.14 L196.99,253.62 L197.72,255.01 L198.45,256.31 L199.18,257.53 L199.91,258.67 L200.64,259.74 L201.37,260.75 L202.10,261.70 L202.83,262.58 L203.56,263.41 L204.29,264.20 L205.02,264.93 L205.75,265.62 L206.48,266.27 L207.21,266.89 L207.94,267.47 L208.67,268.02 L209.40,268.54 L210.13,269.03 L210.86,269.50 L211.59,269.94 L212.32,270.37 L213.05,270.77 L213.78,271.16 L214.51,271.53 L215.24,271.89 L215.97,272.23 L216.70,272.56 L217.43,272.88 L218.16,273.18 L218.89,273.48 L219.62,273.76 L220.35,274.04 L221.08,274.30 L221.81,274.56 L222.54,274.81 L223.27,275.06 L224.00,275.29 L224.73,275.52 L225.46,275.75 L226.19,275.96 L226.92,276.17 L227.65,276.38 L228.38,276.58 L229.11,276.78 L229.84,276.97 L230.57,277.16 L231.30,277.34 L232.03,277.51 L232.76,277.69 L233.49,277.86 L234.22,278.02 L234.95,278.18 L235.68,278.34 L236.41,278.50 L237.14,278.65 L237.87,278.79 L238.60,278.94 L239.33,279.08 L240.06,279.22 L240.79,279.35 L241.52,279.48 L242.25,279.61 L242.98,279.74 L243.71,279.86 L244.44,279.98 L245.17,280.10 L245.90,280.22 L246.63,280.33 L247.36,280.44 L248.09,280.55 L248.82,280.66 L249.55,280.76 L250.28,280.87 L251.01,280.97 L251.74,281.07 L252.47,281.16 L253.20,281.26 L253.93,281.35 L254.66,281.44 L255.39,281.53 L256.12,281.62 L256.85,281.70 L257.58,281.79 L258.31,281.87 L259.04,281.95 L259.77,282.03 L260.50,282.11 L261.23,282.19 L261.96,282.27 L262.69,282.34 L263.42,282.41 L264.15,282.48 L264.88,282.55 L265.61,282.62 L266.34,282.69 L267.07,282.76 L267.80,282.82 L268.53,282.89 L269.26,282.95 L269.99,283.02 L270.72,283.08 L271.45,283.14 L272.18,283.20 L272.91,283.26 L273.64,283.31 L274.37,283.37 L275.10,283.43 L275.83,283.48 L276.56,283.53 L277.29,283.59 L278.02,283.64 L278.75,283.69 L279.48,283.74 L280.21,283.79 L280.94,283.84 L281.67,283.89 L282.40,283.94 L283.13,283.99 L283.86,284.03 L284.59,284.08 L285.32,284.12 L286.05,284.17 L286.78,284.21 L287.51,284.25 L288.24,284.27 L288.97,284.29 L289.70,284.29 L290.43,284.28 L291.16,284.26 L291.89,284.23 L292.62,284.19 L293.35,284.13 L294.08,284.07 L294.81,283.99 L295.54,283.90 L296.27,283.80 L297.00,283.69 L297.73,283.57 L298.46,283.43 L299.19,283.29 L299.92,283.13 L300.65,282.96 L301.38,282.78 L302.11,282.59 L302.84,282.39 L303.57,282.18 L304.30,281.95" stroke="#00ff00" stroke-width="2.3" fill="none" stroke-linejoin="round"/>
<path d="M41.50,282.31 L42.23,282.30 L42.96,282.29 L43.69,282.28 L44.42,282.28 L45.15,282.27 L45.88,282.26 L46.61,282.25 L47.34,282.24 L48.07,282.23 L48.80,282.23 L49.53,282.22 L50.26,282.21 L50.99,282.20 L51.72,282.19 L52.45,282.18 L53.18,282.16 L53.91,282.15 L54.64,282.14 L55.37,282.13 L56.10,282.12 L56.83,282.11 L57.56,282.10 L58.29,282.09 L59.02,282.08 L59.75,282.07 L60.48,282.06 L61.21,282.05 L61.94,282.04 L62.67,282.03 L63.40,282.02 L64.13,282.01 L64.86,282.00 L65.59,281.99 L66.32,281.98 L67.05,281.97 L67.78,281.96 L68.51,281.95 L69.24,281.95 L69.97,281.94 L70.70,281.93 L71.43,281.92 L72.16,281.91 L72.89,281.89 L73.62,281.88 L74.35,281.87 L75.08,281.85 L75.81,281.84 L76.54,281.82 L77.27,281.80 L78.00,281.78 L78.73,281.75 L79.46,281.73 L80.19,281.70 L80.92,281.66 L81.65,281.62 L82.38,281.58 L83.11,281.54 L83.84,281.49 L84.57,281.43 L85.30,281.37 L86.03,281.30 L86.76,281.23 L87.49,281.15 L88.22,281.07 L88.95,280.98 L89.68,280.88 L90.41,280.78 L91.14,280.66 L91.87,280.54 L92.60,280.41 L93.33,280.28 L94.06,280.13 L94.79,279.98 L95.52,279.82 L96.25,279.65 L96.98,279.47 L97.71,279.28 L98.44,279.08 L99.17,278.86 L99.90,278.64 L100.63,278.41 L101.36,278.16 L102.09,277.90 L102.82,277.63 L103.55,277.34 L104.28,277.04 L105.01,276.72 L105.74,276.39 L106.47,276.03 L107.20,275.66 L107.93,275.26 L108.66,274.84 L109.39,274.39 L110.12,273.92 L110.85,273.42 L111.58,272.88 L112.31,272.32 L113.04,271.71 L113.77,271.06 L114.50,270.38 L115.23,269.64 L115.96,268.86 L116.69,268.02 L117.42,267.13 L118.15,266.18 L118.88,265.17 L119.61,264.09 L120.34,262.93 L121.07,261.71 L121.80,260.40 L122.53,259.02 L123.26,257.55 L123.99,255.99 L124.72,254.33 L125.45,252.58 L126.18,250.74 L126.91,248.79 L127.64,246.74 L128.37,244.58 L129.10,242.31 L129.83,239.94 L130.56,237.46 L131.29,234.87 L132.02,232.17 L132.75,229.36 L133.48,226.44 L134.21,223.42 L134.94,220.30 L135.67,217.08 L136.40,213.77 L137.13,210.37 L137.86,206.89 L138.59,203.34 L139.32,199.71 L140.05,196.03 L140.78,192.30 L141.51,188.54 L142.24,184.74 L142.97,180.94 L143.70,177.13 L144.43,173.34 L145.16,169.57 L145.89,165.85 L146.62,162.19 L147.35,158.61 L148.08,155.13 L148.81,151.76 L149.54,148.52 L150.27,145.43 L151.00,142.51 L151.73,139.78 L152.46,137.24 L153.19,134.93 L153.92,132.86 L154.65,131.04 L155.38,129.48 L156.11,128.20 L156.84,127.20 L157.57,126.50 L158.30,126.10 L159.03,126.00 L159.76,126.19 L160.49,126.63 L161.22,127.33 L161.95,128.29 L162.68,129.49 L163.41,130.95 L164.14,132.63 L164.87,134.55 L165.60,136.68 L166.33,139.01 L167.06,141.54 L167.79,144.24 L168.52,147.10 L169.25,150.11 L169.98,153.25 L170.71,156.51 L171.44,159.86 L172.17,163.29 L172.90,166.78 L173.63,170.33 L174.36,173.90 L175.09,177.50 L175.82,181.10 L176.55,184.68 L177.28,188.25 L178.01,191.78 L178.74,195.26 L179.47,198.69 L180.20,202.06 L180.93,205.35 L181.66,208.56 L182.39,211.69 L183.12,214.72 L183.85,217.66 L184.58,220.50 L185.31,223.23 L186.04,225.86 L186.77,228.39 L187.50,230.81 L188.23,233.12 L188.96,235.33 L189.69,237.44 L190.42,239.45 L191.15,241.36 L191.88,243.17 L192.61,244.89 L193.34,246.53 L194.07,248.07 L194.80,249.54 L195.53,250.93 L196.26,252.24 L196.99,253.48 L197.72,254.66 L198.45,255.78 L199.18,256.83 L199.91,257.84 L200.64,258.79 L201.37,259.69 L202.10,260.55 L202.83,261.37 L203.56,262.15 L204.29,262.90 L205.02,263.61 L205.75,264.29 L206.48,264.94 L207.21,265.57 L207.94,266.17 L208.67,266.75 L209.40,267.32 L210.13,267.86 L210.86,268.38 L211.59,268.89 L212.32,269.38 L213.05,269.85 L213.78,270.32 L214.51,270.77 L215.24,271.20 L215.97,271.63 L216.70,272.05 L217.43,272.45 L218.16,272.85 L218.89,273.23 L219.62,273.61 L220.35,273.98 L221.08,274.33 L221.81,274.68 L222.54,275.03 L223.27,275.36 L224.00,275.69 L224.73,276.01 L225.46,276.32 L226.19,276.62 L226.92,276.92 L227.65,277.21 L228.38,277.50 L229.11,277.77 L229.84,278.04 L230.57,278.31 L231.30,278.56 L232.03,278.81 L232.76,279.06 L233.49,279.30 L234.22,279.53 L234.95,279.75 L235.68,279.97 L236.41,280.18 L237.14,280.39 L237.87,280.59 L238.60,280.79 L239.33,280.98 L240.06,281.16 L240.79,281.34 L241.52,281.51 L242.25,281.67 L242.98,281.83 L243.71,281.99 L244.44,282.14 L245.17,282.29 L245.90,282.43 L246.63,282.56 L247.36,282.69 L248.09,282.82 L248.82,282.94 L249.55,283.06 L250.28,283.17 L251.01,283.28 L251.74,283.39 L252.47,283.49 L253.20,283.59 L253.93,283.68 L254.66,283.77 L255.39,283.86 L256.12,283.95 L256.85,284.03 L257.58,284.11 L258.31,284.19 L259.04,284.26 L259.77,284.33 L260.50,284.40 L261.23,284.47 L261.96,284.54 L262.69,284.60 L263.42,284.66 L264.15,284.73 L264.88,284.78 L265.61,284.84 L266.34,284.90 L267.07,284.96 L267.80,285.01 L268.53,285.06 L269.26,285.12 L269.99,285.17 L270.72,285.22 L271.45,285.27 L272.18,285.32 L272.91,285.37 L273.64,285.42 L274.37,285.47 L275.10,285.52 L275.83,285.57 L276.56,285.62 L277.29,285.67 L278.02,285.72 L278.75,285.77 L279.48,285.82 L280.21,285.87 L280.94,285.92 L281.67,285.97 L282.40,286.02 L283.13,286.07 L283.86,286.12 L284.59,286.17 L285.32,286.22 L286.05,286.27 L286.78,286.33 L287.51,286.38 L288.24,286.43 L288.97,286.49 L289.70,286.54 L290.43,286.59 L291.16,286.64 L291.89,286.70 L292.62,286.75 L293.35,286.80 L294.08,286.86 L294.81,286.91 L295.54,286.97 L296.27,287.02 L297.00,287.07 L297.73,287.12 L298.46,287.18 L299.19,287.23 L299.92,287.28 L300.65,287.34 L301.38,287.39 L302.11,287.44 L302.84,287.49 L303.57,287.54 L304.30,287.60" stroke="#1f5c99" stroke-width="2.3" fill="none" stroke-linejoin="round"/>
<path d="M231.0,113.5 H260.5" stroke="#0000ff" stroke-width="2.2"/>
<text transform="translate(262.40,116.80) scale(1,1.1)" font-size="12.3" text-anchor="start" font-weight="normal" >30</text>
<path d="M231.0,137.1 H260.5" stroke="#ff66cc" stroke-width="2.2"/>
<text transform="translate(262.40,140.40) scale(1,1.1)" font-size="12.3" text-anchor="start" font-weight="normal" >40</text>
<path d="M231.0,161.0 H260.5" stroke="#ffff00" stroke-width="2.2"/>
<text transform="translate(262.40,164.30) scale(1,1.1)" font-size="12.3" text-anchor="start" font-weight="normal" >60</text>
<path d="M231.0,184.8 H260.5" stroke="#cce6ff" stroke-width="2.2"/>
<text transform="translate(262.40,188.10) scale(1,1.1)" font-size="12.3" text-anchor="start" font-weight="normal" >70</text>
<path d="M231.0,208.5 H260.5" stroke="#ff3300" stroke-width="2.2"/>
<text transform="translate(262.40,211.80) scale(1,1.1)" font-size="12.3" text-anchor="start" font-weight="normal" >80</text>
<path d="M231.0,232.4 H260.5" stroke="#00ff00" stroke-width="2.2"/>
<text transform="translate(262.40,235.70) scale(1,1.1)" font-size="12.3" text-anchor="start" font-weight="normal" >90</text>
<path d="M231.0,256.2 H260.5" stroke="#1f5c99" stroke-width="2.2"/>
<text transform="translate(262.40,259.50) scale(1,1.1)" font-size="12.3" text-anchor="start" font-weight="normal" >100</text>
<path d="M408.0,3.5 V286.5" stroke="#888888" stroke-width="1" fill="none"/>
<path d="M403.5,282.5 H675.5 V286.5" stroke="#888888" stroke-width="1" fill="none"/>
<text transform="translate(396.50,288.00) scale(1,1.1)" font-size="12.3" text-anchor="end" font-weight="normal" >0</text>
<path d="M403.5,247.5 H407.5" stroke="#888888" stroke-width="1"/>
<text transform="translate(396.50,253.00) scale(1,1.1)" font-size="12.3" text-anchor="end" font-weight="normal" >5</text>
<path d="M403.5,212.5 H407.5" stroke="#888888" stroke-width="1"/>
<text transform="translate(396.50,218.00) scale(1,1.1)" font-size="12.3" text-anchor="end" font-weight="normal" >10</text>
<path d="M403.5,177.5 H407.5" stroke="#888888" stroke-width="1"/>
<text transform="translate(396.50,183.00) scale(1,1.1)" font-size="12.3" text-anchor="end" font-weight="normal" >15</text>
<path d="M403.5,143.5 H407.5" stroke="#888888" stroke-width="1"/>
<text transform="translate(396.50,149.00) scale(1,1.1)" font-size="12.3" text-anchor="end" font-weight="normal" >20</text>
<path d="M403.5,108.5 H407.5" stroke="#888888" stroke-width="1"/>
<text transform="translate(396.50,114.00) scale(1,1.1)" font-size="12.3" text-anchor="end" font-weight="normal" >25</text>
<path d="M403.5,73.5 H407.5" stroke="#888888" stroke-width="1"/>
<text transform="translate(396.50,79.00) scale(1,1.1)" font-size="12.3" text-anchor="end" font-weight="normal" >30</text>
<path d="M403.5,38.5 H407.5" stroke="#888888" stroke-width="1"/>
<text transform="translate(396.50,44.00) scale(1,1.1)" font-size="12.3" text-anchor="end" font-weight="normal" >35</text>
<path d="M403.5,3.5 H407.5" stroke="#888888" stroke-width="1"/>
<text transform="translate(396.50,9.00) scale(1,1.1)" font-size="12.3" text-anchor="end" font-weight="normal" >40</text>
<text transform="translate(408.00,301.90) scale(1,1.1)" font-size="12.3" text-anchor="middle" font-weight="normal" >0</text>
<path d="M452.5,282.5 V286.5" stroke="#888888" stroke-width="1"/>
<text transform="translate(452.58,301.90) scale(1,1.1)" font-size="12.3" text-anchor="middle" font-weight="normal" >20</text>
<path d="M497.5,282.5 V286.5" stroke="#888888" stroke-width="1"/>
<text transform="translate(497.17,301.90) scale(1,1.1)" font-size="12.3" text-anchor="middle" font-weight="normal" >40</text>
<path d="M541.5,282.5 V286.5" stroke="#888888" stroke-width="1"/>
<text transform="translate(541.75,301.90) scale(1,1.1)" font-size="12.3" text-anchor="middle" font-weight="normal" >60</text>
<path d="M586.5,282.5 V286.5" stroke="#888888" stroke-width="1"/>
<text transform="translate(586.33,301.90) scale(1,1.1)" font-size="12.3" text-anchor="middle" font-weight="normal" >80</text>
<path d="M630.5,282.5 V286.5" stroke="#888888" stroke-width="1"/>
<text transform="translate(630.92,301.90) scale(1,1.1)" font-size="12.3" text-anchor="middle" font-weight="normal" >100</text>
<text transform="translate(675.50,301.90) scale(1,1.1)" font-size="12.3" text-anchor="middle" font-weight="normal" >120</text>
<text x="541.60" y="322.80" font-size="14" text-anchor="middle" font-weight="normal" >Concentration of CA-15-3 (nU/mL)</text>
<text transform="translate(370.1,144.1) rotate(-90)" font-size="14" text-anchor="middle">I(μA)</text>
<text x="420.20" y="36.00" font-size="16.3" text-anchor="start" font-weight="bold" >B</text>
<path d="M474.5,35.5 V50.5 M471.0,35.5 H478.0 M471.0,50.5 H478.0" stroke="#808080" stroke-width="1" fill="none"/>
<circle cx="474.88" cy="42.56" r="3.6" fill="#ff0000"/>
<path d="M497.5,55.5 V58.5 M494.0,55.5 H501.0 M494.0,58.5 H501.0" stroke="#808080" stroke-width="1" fill="none"/>
<circle cx="497.17" cy="57.21" r="3.6" fill="#ff0000"/>
<path d="M541.5,66.5 V72.5 M538.0,66.5 H545.0 M538.0,72.5 H545.0" stroke="#808080" stroke-width="1" fill="none"/>
<circle cx="541.75" cy="69.76" r="3.6" fill="#ff0000"/>
<path d="M564.5,77.5 V82.5 M561.0,77.5 H568.0 M561.0,82.5 H568.0" stroke="#808080" stroke-width="1" fill="none"/>
<circle cx="564.04" cy="80.36" r="3.6" fill="#ff0000"/>
<path d="M586.5,92.5 V96.5 M583.0,92.5 H590.0 M583.0,96.5 H590.0" stroke="#808080" stroke-width="1" fill="none"/>
<circle cx="586.33" cy="94.87" r="3.6" fill="#ff0000"/>
<path d="M608.5,109.5 V113.5 M605.0,109.5 H612.0 M605.0,113.5 H612.0" stroke="#808080" stroke-width="1" fill="none"/>
<circle cx="608.62" cy="111.61" r="3.6" fill="#ff0000"/>
<path d="M630.5,118.5 V128.5 M627.0,118.5 H634.0 M627.0,128.5 H634.0" stroke="#808080" stroke-width="1" fill="none"/>
<circle cx="630.92" cy="123.12" r="3.6" fill="#ff0000"/>
<path d="M474.88,41.53 L630.92,119.75" stroke="#0000ff" stroke-width="2.2" stroke-dasharray="0 3.9" stroke-linecap="round" fill="none"/>
<text transform="translate(473.80,153.30) scale(1,1.1)" font-size="12.6" text-anchor="start" font-weight="normal" >y = -0.1602x + 39.354</text>
<text transform="translate(500.40,167.60) scale(1,1.1)" font-size="12.6" text-anchor="start" font-weight="normal" >R<tspan font-size="8" dy="-3.8">2</tspan><tspan dy="3.8"> = 0.9785</tspan></text>
<path d="M45.5,359.5 V643.0" stroke="#888888" stroke-width="1" fill="none"/>
<path d="M41.5,639.5 H337.5 V643.0" stroke="#888888" stroke-width="1" fill="none"/>
<text transform="translate(33.80,645.00) scale(1,1.1)" font-size="12.3" text-anchor="end" font-weight="normal" >0</text>
<path d="M41.5,599.5 H45.5" stroke="#888888" stroke-width="1"/>
<text transform="translate(33.80,605.00) scale(1,1.1)" font-size="12.3" text-anchor="end" font-weight="normal" >5</text>
<path d="M41.5,559.5 H45.5" stroke="#888888" stroke-width="1"/>
<text transform="translate(33.80,565.00) scale(1,1.1)" font-size="12.3" text-anchor="end" font-weight="normal" >10</text>
<path d="M41.5,519.5 H45.5" stroke="#888888" stroke-width="1"/>
<text transform="translate(33.80,525.00) scale(1,1.1)" font-size="12.3" text-anchor="end" font-weight="normal" >15</text>
<path d="M41.5,479.5 H45.5" stroke="#888888" stroke-width="1"/>
<text transform="translate(33.80,485.00) scale(1,1.1)" font-size="12.3" text-anchor="end" font-weight="normal" >20</text>
<path d="M41.5,439.5 H45.5" stroke="#888888" stroke-width="1"/>
<text transform="translate(33.80,445.00) scale(1,1.1)" font-size="12.3" text-anchor="end" font-weight="normal" >25</text>
<path d="M41.5,399.5 H45.5" stroke="#888888" stroke-width="1"/>
<text transform="translate(33.80,405.00) scale(1,1.1)" font-size="12.3" text-anchor="end" font-weight="normal" >30</text>
<path d="M41.5,359.5 H45.5" stroke="#888888" stroke-width="1"/>
<text transform="translate(33.80,365.00) scale(1,1.1)" font-size="12.3" text-anchor="end" font-weight="normal" >35</text>
<text transform="translate(45.50,658.90) scale(1,1.1)" font-size="12.3" text-anchor="middle" font-weight="normal" >-0.2</text>
<path d="M103.5,639.5 V643.0" stroke="#888888" stroke-width="1"/>
<text transform="translate(103.90,658.90) scale(1,1.1)" font-size="12.3" text-anchor="middle" font-weight="normal" >0</text>
<path d="M162.5,639.5 V643.0" stroke="#888888" stroke-width="1"/>
<text transform="translate(162.30,658.90) scale(1,1.1)" font-size="12.3" text-anchor="middle" font-weight="normal" >0.2</text>
<path d="M220.5,639.5 V643.0" stroke="#888888" stroke-width="1"/>
<text transform="translate(220.70,658.90) scale(1,1.1)" font-size="12.3" text-anchor="middle" font-weight="normal" >0.4</text>
<path d="M279.5,639.5 V643.0" stroke="#888888" stroke-width="1"/>
<text transform="translate(279.10,658.90) scale(1,1.1)" font-size="12.3" text-anchor="middle" font-weight="normal" >0.6</text>
<text transform="translate(337.50,658.90) scale(1,1.1)" font-size="12.3" text-anchor="middle" font-weight="normal" >0.8</text>
<text x="175.40" y="678.70" font-size="14" text-anchor="middle" font-weight="normal" >P(V)</text>
<text transform="translate(14.3,476.1) rotate(-90)" font-size="14" text-anchor="middle">I(μA)</text>
<text x="59.80" y="384.00" font-size="16.3" text-anchor="start" font-weight="bold" >C</text>
<path d="M45.50,629.90 L46.23,629.88 L46.96,629.86 L47.69,629.84 L48.42,629.81 L49.15,629.79 L49.88,629.77 L50.61,629.74 L51.34,629.72 L52.07,629.69 L52.80,629.66 L53.53,629.64 L54.26,629.61 L54.99,629.58 L55.72,629.55 L56.45,629.51 L57.18,629.48 L57.91,629.45 L58.64,629.41 L59.37,629.38 L60.10,629.34 L60.83,629.30 L61.56,629.26 L62.29,629.22 L63.02,629.18 L63.75,629.14 L64.48,629.09 L65.21,629.05 L65.94,629.00 L66.67,628.95 L67.40,628.90 L68.13,628.85 L68.86,628.80 L69.59,628.74 L70.32,628.69 L71.05,628.63 L71.78,628.57 L72.51,628.51 L73.24,628.45 L73.97,628.38 L74.70,628.32 L75.43,628.25 L76.16,628.18 L76.89,628.11 L77.62,628.03 L78.35,627.96 L79.08,627.88 L79.81,627.80 L80.54,627.71 L81.27,627.63 L82.00,627.54 L82.73,627.45 L83.46,627.35 L84.19,627.26 L84.92,627.16 L85.65,627.05 L86.38,626.95 L87.11,626.84 L87.84,626.73 L88.57,626.61 L89.30,626.49 L90.03,626.36 L90.76,626.24 L91.49,626.10 L92.22,625.96 L92.95,625.82 L93.68,625.67 L94.41,625.51 L95.14,625.35 L95.87,625.18 L96.60,625.00 L97.33,624.82 L98.06,624.62 L98.79,624.41 L99.52,624.20 L100.25,623.97 L100.98,623.73 L101.71,623.47 L102.44,623.20 L103.17,622.91 L103.90,622.61 L104.63,622.28 L105.36,621.93 L106.09,621.56 L106.82,621.16 L107.55,620.73 L108.28,620.27 L109.01,619.78 L109.74,619.25 L110.47,618.68 L111.20,618.07 L111.93,617.42 L112.66,616.71 L113.39,615.95 L114.12,615.13 L114.85,614.25 L115.58,613.31 L116.31,612.29 L117.04,611.20 L117.77,610.02 L118.50,608.76 L119.23,607.41 L119.96,605.97 L120.69,604.42 L121.42,602.77 L122.15,601.00 L122.88,599.12 L123.61,597.11 L124.34,594.97 L125.07,592.70 L125.80,590.29 L126.53,587.74 L127.26,585.04 L127.99,582.18 L128.72,579.17 L129.45,576.00 L130.18,572.66 L130.91,569.16 L131.64,565.48 L132.37,561.64 L133.10,557.62 L133.83,553.43 L134.56,549.07 L135.29,544.54 L136.02,539.84 L136.75,534.97 L137.48,529.94 L138.21,524.76 L138.94,519.42 L139.67,513.94 L140.40,508.33 L141.13,502.59 L141.86,496.74 L142.59,490.78 L143.32,484.73 L144.05,478.61 L144.78,472.43 L145.51,466.21 L146.24,459.97 L146.97,453.74 L147.70,447.52 L148.43,441.35 L149.16,435.26 L149.89,429.26 L150.62,423.40 L151.35,417.71 L152.08,412.21 L152.81,406.94 L153.54,401.95 L154.27,397.25 L155.00,392.90 L155.73,388.93 L156.46,385.38 L157.19,382.27 L157.92,379.64 L158.65,377.52 L159.38,375.94 L160.11,374.90 L160.84,374.43 L161.57,374.52 L162.30,375.16 L163.03,376.32 L163.76,378.01 L164.49,380.22 L165.22,382.91 L165.95,386.08 L166.68,389.70 L167.41,393.73 L168.14,398.15 L168.87,402.93 L169.60,408.03 L170.33,413.41 L171.06,419.05 L171.79,424.90 L172.52,430.93 L173.25,437.11 L173.98,443.40 L174.71,449.77 L175.44,456.19 L176.17,462.64 L176.90,469.08 L177.63,475.49 L178.36,481.84 L179.09,488.12 L179.82,494.30 L180.55,500.37 L181.28,506.31 L182.01,512.11 L182.74,517.75 L183.47,523.23 L184.20,528.53 L184.93,533.65 L185.66,538.57 L186.39,543.31 L187.12,547.85 L187.85,552.20 L188.58,556.35 L189.31,560.31 L190.04,564.07 L190.77,567.64 L191.50,571.03 L192.23,574.24 L192.96,577.27 L193.69,580.13 L194.42,582.83 L195.15,585.38 L195.88,587.77 L196.61,590.02 L197.34,592.13 L198.07,594.12 L198.80,595.99 L199.53,597.74 L200.26,599.38 L200.99,600.93 L201.72,602.38 L202.45,603.75 L203.18,605.03 L203.91,606.24 L204.64,607.38 L205.37,608.46 L206.10,609.47 L206.83,610.43 L207.56,611.35 L208.29,612.21 L209.02,613.03 L209.75,613.82 L210.48,614.57 L211.21,615.28 L211.94,615.96 L212.67,616.62 L213.40,617.25 L214.13,617.85 L214.86,618.44 L215.59,619.00 L216.32,619.54 L217.05,620.07 L217.78,620.57 L218.51,621.07 L219.24,621.54 L219.97,622.00 L220.70,622.45 L221.43,622.88 L222.16,623.30 L222.89,623.70 L223.62,624.10 L224.35,624.48 L225.08,624.85 L225.81,625.21 L226.54,625.56 L227.27,625.89 L228.00,626.22 L228.73,626.53 L229.46,626.83 L230.19,627.13 L230.92,627.41 L231.65,627.68 L232.38,627.94 L233.11,628.19 L233.84,628.44 L234.57,628.67 L235.30,628.90 L236.03,629.11 L236.76,629.32 L237.49,629.52 L238.22,629.71 L238.95,629.89 L239.68,630.06 L240.41,630.23 L241.14,630.39 L241.87,630.54 L242.60,630.69 L243.33,630.83 L244.06,630.97 L244.79,631.09 L245.52,631.22 L246.25,631.34 L246.98,631.45 L247.71,631.56 L248.44,631.66 L249.17,631.76 L249.90,631.86 L250.63,631.95 L251.36,632.04 L252.09,632.13 L252.82,632.21 L253.55,632.29 L254.28,632.37 L255.01,632.45 L255.74,632.52 L256.47,632.59 L257.20,632.67 L257.93,632.73 L258.66,632.80 L259.39,632.87 L260.12,632.93 L260.85,633.00 L261.58,633.06 L262.31,633.12 L263.04,633.19 L263.77,633.25 L264.50,633.31 L265.23,633.37 L265.96,633.43 L266.69,633.49 L267.42,633.55 L268.15,633.61 L268.88,633.67 L269.61,633.73 L270.34,633.79 L271.07,633.85 L271.80,633.90 L272.53,633.96 L273.26,634.02 L273.99,634.08 L274.72,634.14 L275.45,634.20 L276.18,634.26 L276.91,634.32 L277.64,634.38 L278.37,634.43 L279.10,634.49 L279.83,634.55 L280.56,634.61 L281.29,634.66 L282.02,634.72 L282.75,634.78 L283.48,634.83 L284.21,634.89 L284.94,634.94 L285.67,635.00 L286.40,635.05 L287.13,635.11 L287.86,635.16 L288.59,635.21 L289.32,635.26 L290.05,635.31 L290.78,635.36 L291.51,635.41 L292.24,635.46 L292.97,635.51 L293.70,635.55 L294.43,635.60 L295.16,635.65 L295.89,635.69 L296.62,635.73 L297.35,635.78 L298.08,635.82 L298.81,635.87 L299.54,635.91 L300.27,635.95 L301.00,635.99 L301.73,636.03 L302.46,636.07 L303.19,636.11 L303.92,636.15 L304.65,636.19 L305.38,636.23 L306.11,636.27 L306.84,636.31 L307.57,636.35 L308.30,636.39" stroke="#0000ff" stroke-width="2.3" fill="none" stroke-linejoin="round"/>
<path d="M45.50,629.10 L46.23,629.06 L46.96,629.01 L47.69,628.97 L48.42,628.92 L49.15,628.88 L49.88,628.83 L50.61,628.79 L51.34,628.74 L52.07,628.69 L52.80,628.64 L53.53,628.59 L54.26,628.54 L54.99,628.49 L55.72,628.43 L56.45,628.38 L57.18,628.33 L57.91,628.27 L58.64,628.22 L59.37,628.16 L60.10,628.10 L60.83,628.04 L61.56,627.98 L62.29,627.92 L63.02,627.86 L63.75,627.80 L64.48,627.73 L65.21,627.67 L65.94,627.60 L66.67,627.53 L67.40,627.46 L68.13,627.39 L68.86,627.32 L69.59,627.25 L70.32,627.17 L71.05,627.10 L71.78,627.02 L72.51,626.94 L73.24,626.86 L73.97,626.78 L74.70,626.69 L75.43,626.61 L76.16,626.52 L76.89,626.43 L77.62,626.34 L78.35,626.25 L79.08,626.15 L79.81,626.06 L80.54,625.96 L81.27,625.86 L82.00,625.75 L82.73,625.65 L83.46,625.54 L84.19,625.43 L84.92,625.32 L85.65,625.21 L86.38,625.09 L87.11,624.97 L87.84,624.85 L88.57,624.72 L89.30,624.60 L90.03,624.47 L90.76,624.34 L91.49,624.20 L92.22,624.06 L92.95,623.92 L93.68,623.77 L94.41,623.62 L95.14,623.47 L95.87,623.31 L96.60,623.15 L97.33,622.98 L98.06,622.81 L98.79,622.63 L99.52,622.45 L100.25,622.26 L100.98,622.06 L101.71,621.86 L102.44,621.65 L103.17,621.42 L103.90,621.19 L104.63,620.94 L105.36,620.68 L106.09,620.41 L106.82,620.12 L107.55,619.81 L108.28,619.48 L109.01,619.13 L109.74,618.76 L110.47,618.36 L111.20,617.93 L111.93,617.46 L112.66,616.96 L113.39,616.42 L114.12,615.83 L114.85,615.20 L115.58,614.51 L116.31,613.77 L117.04,612.97 L117.77,612.09 L118.50,611.15 L119.23,610.13 L119.96,609.02 L120.69,607.83 L121.42,606.53 L122.15,605.14 L122.88,603.63 L123.61,602.01 L124.34,600.26 L125.07,598.39 L125.80,596.38 L126.53,594.23 L127.26,591.93 L127.99,589.47 L128.72,586.86 L129.45,584.08 L130.18,581.13 L130.91,578.00 L131.64,574.70 L132.37,571.21 L133.10,567.54 L133.83,563.69 L134.56,559.65 L135.29,555.43 L136.02,551.03 L136.75,546.45 L137.48,541.69 L138.21,536.77 L138.94,531.68 L139.67,526.44 L140.40,521.06 L141.13,515.55 L141.86,509.92 L142.59,504.19 L143.32,498.38 L144.05,492.50 L144.78,486.57 L145.51,480.63 L146.24,474.68 L146.97,468.76 L147.70,462.89 L148.43,457.10 L149.16,451.42 L149.89,445.87 L150.62,440.48 L151.35,435.28 L152.08,430.30 L152.81,425.56 L153.54,421.09 L154.27,416.91 L155.00,413.05 L155.73,409.51 L156.46,406.33 L157.19,403.51 L157.92,401.07 L158.65,399.03 L159.38,397.40 L160.11,396.18 L160.84,395.39 L161.57,395.02 L162.30,395.11 L163.03,395.67 L163.76,396.72 L164.49,398.24 L165.22,400.22 L165.95,402.64 L166.68,405.47 L167.41,408.68 L168.14,412.26 L168.87,416.16 L169.60,420.36 L170.33,424.82 L171.06,429.51 L171.79,434.39 L172.52,439.44 L173.25,444.63 L173.98,449.93 L174.71,455.31 L175.44,460.75 L176.17,466.23 L176.90,471.72 L177.63,477.22 L178.36,482.69 L179.09,488.12 L179.82,493.51 L180.55,498.83 L181.28,504.08 L182.01,509.25 L182.74,514.32 L183.47,519.29 L184.20,524.15 L184.93,528.90 L185.66,533.52 L186.39,538.02 L187.12,542.38 L187.85,546.60 L188.58,550.69 L189.31,554.64 L190.04,558.44 L190.77,562.10 L191.50,565.62 L192.23,568.99 L192.96,572.22 L193.69,575.30 L194.42,578.25 L195.15,581.05 L195.88,583.72 L196.61,586.25 L197.34,588.66 L198.07,590.94 L198.80,593.09 L199.53,595.13 L200.26,597.05 L200.99,598.86 L201.72,600.57 L202.45,602.17 L203.18,603.68 L203.91,605.10 L204.64,606.43 L205.37,607.68 L206.10,608.85 L206.83,609.95 L207.56,610.98 L208.29,611.94 L209.02,612.85 L209.75,613.69 L210.48,614.49 L211.21,615.24 L211.94,615.95 L212.67,616.61 L213.40,617.23 L214.13,617.82 L214.86,618.38 L215.59,618.90 L216.32,619.40 L217.05,619.88 L217.78,620.33 L218.51,620.75 L219.24,621.16 L219.97,621.55 L220.70,621.93 L221.43,622.28 L222.16,622.62 L222.89,622.95 L223.62,623.27 L224.35,623.57 L225.08,623.86 L225.81,624.14 L226.54,624.40 L227.27,624.66 L228.00,624.91 L228.73,625.14 L229.46,625.37 L230.19,625.58 L230.92,625.79 L231.65,625.99 L232.38,626.17 L233.11,626.35 L233.84,626.52 L234.57,626.68 L235.30,626.83 L236.03,626.97 L236.76,627.10 L237.49,627.22 L238.22,627.34 L238.95,627.45 L239.68,627.55 L240.41,627.64 L241.14,627.72 L241.87,627.80 L242.60,627.87 L243.33,627.93 L244.06,627.99 L244.79,628.04 L245.52,628.09 L246.25,628.13 L246.98,628.17 L247.71,628.21 L248.44,628.24 L249.17,628.27 L249.90,628.30 L250.63,628.32 L251.36,628.35 L252.09,628.37 L252.82,628.39 L253.55,628.42 L254.28,628.44 L255.01,628.46 L255.74,628.49 L256.47,628.52 L257.20,628.54 L257.93,628.57 L258.66,628.61 L259.39,628.64 L260.12,628.67 L260.85,628.71 L261.58,628.75 L262.31,628.79 L263.04,628.84 L263.77,628.88 L264.50,628.93 L265.23,628.98 L265.96,629.03 L266.69,629.08 L267.42,629.13 L268.15,629.19 L268.88,629.24 L269.61,629.29 L270.34,629.35 L271.07,629.40 L271.80,629.45 L272.53,629.50 L273.26,629.55 L273.99,629.60 L274.72,629.65 L275.45,629.69 L276.18,629.74 L276.91,629.78 L277.64,629.81 L278.37,629.85 L279.10,629.88 L279.83,629.91 L280.56,629.93 L281.29,629.95 L282.02,629.97 L282.75,629.98 L283.48,629.99 L284.21,630.00 L284.94,630.00 L285.67,630.00 L286.40,629.99 L287.13,629.99 L287.86,629.97 L288.59,629.96 L289.32,629.94 L290.05,629.92 L290.78,629.89 L291.51,629.87 L292.24,629.83 L292.97,629.80 L293.70,629.77 L294.43,629.73 L295.16,629.69 L295.89,629.65 L296.62,629.60 L297.35,629.56 L298.08,629.51 L298.81,629.46 L299.54,629.41 L300.27,629.36 L301.00,629.31 L301.73,629.26 L302.46,629.21 L303.19,629.16 L303.92,629.11 L304.65,629.06 L305.38,629.00 L306.11,628.95 L306.84,628.90 L307.57,628.85 L308.30,628.81" stroke="#ff66ff" stroke-width="2.3" fill="none" stroke-linejoin="round"/>
<path d="M45.50,628.30 L46.23,628.27 L46.96,628.24 L47.69,628.22 L48.42,628.19 L49.15,628.16 L49.88,628.13 L50.61,628.11 L51.34,628.08 L52.07,628.05 L52.80,628.01 L53.53,627.98 L54.26,627.95 L54.99,627.91 L55.72,627.88 L56.45,627.84 L57.18,627.81 L57.91,627.77 L58.64,627.73 L59.37,627.69 L60.10,627.65 L60.83,627.61 L61.56,627.57 L62.29,627.52 L63.02,627.48 L63.75,627.43 L64.48,627.38 L65.21,627.33 L65.94,627.28 L66.67,627.23 L67.40,627.18 L68.13,627.12 L68.86,627.07 L69.59,627.01 L70.32,626.95 L71.05,626.89 L71.78,626.83 L72.51,626.77 L73.24,626.70 L73.97,626.64 L74.70,626.57 L75.43,626.50 L76.16,626.43 L76.89,626.36 L77.62,626.29 L78.35,626.22 L79.08,626.14 L79.81,626.07 L80.54,625.99 L81.27,625.92 L82.00,625.84 L82.73,625.76 L83.46,625.68 L84.19,625.60 L84.92,625.52 L85.65,625.44 L86.38,625.35 L87.11,625.27 L87.84,625.18 L88.57,625.09 L89.30,625.00 L90.03,624.91 L90.76,624.82 L91.49,624.72 L92.22,624.62 L92.95,624.52 L93.68,624.42 L94.41,624.31 L95.14,624.20 L95.87,624.09 L96.60,623.97 L97.33,623.84 L98.06,623.71 L98.79,623.57 L99.52,623.42 L100.25,623.26 L100.98,623.09 L101.71,622.92 L102.44,622.72 L103.17,622.52 L103.90,622.30 L104.63,622.06 L105.36,621.81 L106.09,621.53 L106.82,621.23 L107.55,620.91 L108.28,620.56 L109.01,620.19 L109.74,619.78 L110.47,619.34 L111.20,618.87 L111.93,618.35 L112.66,617.80 L113.39,617.20 L114.12,616.55 L114.85,615.85 L115.58,615.11 L116.31,614.30 L117.04,613.43 L117.77,612.51 L118.50,611.51 L119.23,610.45 L119.96,609.31 L120.69,608.10 L121.42,606.80 L122.15,605.43 L122.88,603.96 L123.61,602.41 L124.34,600.77 L125.07,599.03 L125.80,597.20 L126.53,595.26 L127.26,593.23 L127.99,591.09 L128.72,588.85 L129.45,586.50 L130.18,584.04 L130.91,581.48 L131.64,578.81 L132.37,576.03 L133.10,573.15 L133.83,570.17 L134.56,567.08 L135.29,563.89 L136.02,560.61 L136.75,557.23 L137.48,553.77 L138.21,550.22 L138.94,546.59 L139.67,542.90 L140.40,539.13 L141.13,535.31 L141.86,531.44 L142.59,527.53 L143.32,523.59 L144.05,519.63 L144.78,515.66 L145.51,511.68 L146.24,507.73 L146.97,503.80 L147.70,499.91 L148.43,496.07 L149.16,492.29 L149.89,488.60 L150.62,485.00 L151.35,481.51 L152.08,478.13 L152.81,474.90 L153.54,471.80 L154.27,468.87 L155.00,466.10 L155.73,463.52 L156.46,461.12 L157.19,458.93 L157.92,456.94 L158.65,455.17 L159.38,453.61 L160.11,452.29 L160.84,451.21 L161.57,450.36 L162.30,449.76 L163.03,449.40 L163.76,449.30 L164.49,449.49 L165.22,449.98 L165.95,450.78 L166.68,451.87 L167.41,453.24 L168.14,454.88 L168.87,456.76 L169.60,458.87 L170.33,461.18 L171.06,463.68 L171.79,466.33 L172.52,469.12 L173.25,472.03 L173.98,475.05 L174.71,478.14 L175.44,481.31 L176.17,484.54 L176.90,487.81 L177.63,491.12 L178.36,494.45 L179.09,497.80 L179.82,501.16 L180.55,504.52 L181.28,507.88 L182.01,511.23 L182.74,514.57 L183.47,517.90 L184.20,521.20 L184.93,524.48 L185.66,527.73 L186.39,530.94 L187.12,534.13 L187.85,537.27 L188.58,540.38 L189.31,543.45 L190.04,546.46 L190.77,549.43 L191.50,552.36 L192.23,555.22 L192.96,558.04 L193.69,560.79 L194.42,563.49 L195.15,566.13 L195.88,568.71 L196.61,571.22 L197.34,573.67 L198.07,576.06 L198.80,578.38 L199.53,580.63 L200.26,582.82 L200.99,584.94 L201.72,587.00 L202.45,588.98 L203.18,590.90 L203.91,592.76 L204.64,594.55 L205.37,596.27 L206.10,597.93 L206.83,599.53 L207.56,601.07 L208.29,602.54 L209.02,603.95 L209.75,605.31 L210.48,606.60 L211.21,607.84 L211.94,609.03 L212.67,610.16 L213.40,611.24 L214.13,612.27 L214.86,613.25 L215.59,614.19 L216.32,615.08 L217.05,615.92 L217.78,616.73 L218.51,617.49 L219.24,618.22 L219.97,618.90 L220.70,619.56 L221.43,620.17 L222.16,620.76 L222.89,621.31 L223.62,621.84 L224.35,622.34 L225.08,622.81 L225.81,623.25 L226.54,623.68 L227.27,624.08 L228.00,624.45 L228.73,624.81 L229.46,625.15 L230.19,625.48 L230.92,625.78 L231.65,626.07 L232.38,626.35 L233.11,626.61 L233.84,626.86 L234.57,627.09 L235.30,627.32 L236.03,627.54 L236.76,627.74 L237.49,627.94 L238.22,628.13 L238.95,628.31 L239.68,628.48 L240.41,628.64 L241.14,628.80 L241.87,628.96 L242.60,629.10 L243.33,629.24 L244.06,629.38 L244.79,629.51 L245.52,629.63 L246.25,629.75 L246.98,629.87 L247.71,629.98 L248.44,630.09 L249.17,630.19 L249.90,630.29 L250.63,630.38 L251.36,630.47 L252.09,630.55 L252.82,630.63 L253.55,630.71 L254.28,630.78 L255.01,630.85 L255.74,630.91 L256.47,630.97 L257.20,631.03 L257.93,631.08 L258.66,631.12 L259.39,631.17 L260.12,631.21 L260.85,631.24 L261.58,631.28 L262.31,631.30 L263.04,631.33 L263.77,631.35 L264.50,631.37 L265.23,631.39 L265.96,631.40 L266.69,631.41 L267.42,631.42 L268.15,631.42 L268.88,631.43 L269.61,631.43 L270.34,631.43 L271.07,631.43 L271.80,631.42 L272.53,631.42 L273.26,631.42 L273.99,631.41 L274.72,631.40 L275.45,631.40 L276.18,631.39 L276.91,631.38 L277.64,631.38 L278.37,631.37 L279.10,631.36 L279.83,631.36 L280.56,631.35 L281.29,631.34 L282.02,631.34 L282.75,631.33 L283.48,631.33 L284.21,631.33 L284.94,631.32 L285.67,631.32 L286.40,631.32 L287.13,631.32 L287.86,631.32 L288.59,631.32 L289.32,631.32 L290.05,631.32 L290.78,631.33 L291.51,631.33 L292.24,631.33 L292.97,631.34 L293.70,631.34 L294.43,631.35 L295.16,631.36 L295.89,631.36 L296.62,631.37 L297.35,631.38 L298.08,631.38 L298.81,631.39 L299.54,631.40 L300.27,631.41 L301.00,631.42 L301.73,631.42 L302.46,631.43 L303.19,631.44 L303.92,631.45 L304.65,631.46 L305.38,631.47 L306.11,631.48 L306.84,631.49 L307.57,631.50 L308.30,631.50" stroke="#ffff00" stroke-width="2.3" fill="none" stroke-linejoin="round"/>
<path d="M45.50,627.90 L46.23,627.88 L46.96,627.85 L47.69,627.83 L48.42,627.80 L49.15,627.78 L49.88,627.75 L50.61,627.72 L51.34,627.70 L52.07,627.67 L52.80,627.64 L53.53,627.61 L54.26,627.58 L54.99,627.54 L55.72,627.51 L56.45,627.48 L57.18,627.44 L57.91,627.41 L58.64,627.37 L59.37,627.33 L60.10,627.29 L60.83,627.25 L61.56,627.21 L62.29,627.17 L63.02,627.13 L63.75,627.08 L64.48,627.03 L65.21,626.99 L65.94,626.94 L66.67,626.89 L67.40,626.84 L68.13,626.79 L68.86,626.73 L69.59,626.68 L70.32,626.62 L71.05,626.56 L71.78,626.50 L72.51,626.44 L73.24,626.38 L73.97,626.31 L74.70,626.24 L75.43,626.17 L76.16,626.10 L76.89,626.03 L77.62,625.95 L78.35,625.88 L79.08,625.80 L79.81,625.72 L80.54,625.63 L81.27,625.55 L82.00,625.46 L82.73,625.37 L83.46,625.27 L84.19,625.18 L84.92,625.08 L85.65,624.98 L86.38,624.87 L87.11,624.76 L87.84,624.65 L88.57,624.53 L89.30,624.42 L90.03,624.29 L90.76,624.17 L91.49,624.04 L92.22,623.90 L92.95,623.76 L93.68,623.62 L94.41,623.47 L95.14,623.32 L95.87,623.16 L96.60,622.99 L97.33,622.82 L98.06,622.64 L98.79,622.46 L99.52,622.26 L100.25,622.06 L100.98,621.86 L101.71,621.64 L102.44,621.41 L103.17,621.17 L103.90,620.92 L104.63,620.66 L105.36,620.39 L106.09,620.10 L106.82,619.80 L107.55,619.48 L108.28,619.14 L109.01,618.78 L109.74,618.41 L110.47,618.01 L111.20,617.59 L111.93,617.14 L112.66,616.67 L113.39,616.17 L114.12,615.64 L114.85,615.07 L115.58,614.47 L116.31,613.83 L117.04,613.15 L117.77,612.43 L118.50,611.67 L119.23,610.85 L119.96,609.99 L120.69,609.07 L121.42,608.09 L122.15,607.06 L122.88,605.96 L123.61,604.80 L124.34,603.57 L125.07,602.27 L125.80,600.90 L126.53,599.45 L127.26,597.92 L127.99,596.32 L128.72,594.63 L129.45,592.85 L130.18,590.99 L130.91,589.04 L131.64,587.00 L132.37,584.88 L133.10,582.66 L133.83,580.35 L134.56,577.95 L135.29,575.46 L136.02,572.88 L136.75,570.22 L137.48,567.47 L138.21,564.64 L138.94,561.74 L139.67,558.75 L140.40,555.70 L141.13,552.59 L141.86,549.42 L142.59,546.19 L143.32,542.93 L144.05,539.62 L144.78,536.29 L145.51,532.95 L146.24,529.59 L146.97,526.24 L147.70,522.91 L148.43,519.60 L149.16,516.33 L149.89,513.12 L150.62,509.98 L151.35,506.91 L152.08,503.95 L152.81,501.09 L153.54,498.36 L154.27,495.77 L155.00,493.34 L155.73,491.08 L156.46,489.00 L157.19,487.13 L157.92,485.47 L158.65,484.03 L159.38,482.83 L160.11,481.88 L160.84,481.19 L161.57,480.76 L162.30,480.60 L163.03,480.69 L163.76,480.98 L164.49,481.48 L165.22,482.18 L165.95,483.07 L166.68,484.17 L167.41,485.44 L168.14,486.90 L168.87,488.53 L169.60,490.32 L170.33,492.27 L171.06,494.35 L171.79,496.56 L172.52,498.89 L173.25,501.32 L173.98,503.85 L174.71,506.46 L175.44,509.15 L176.17,511.89 L176.90,514.69 L177.63,517.52 L178.36,520.39 L179.09,523.29 L179.82,526.20 L180.55,529.11 L181.28,532.03 L182.01,534.93 L182.74,537.82 L183.47,540.69 L184.20,543.54 L184.93,546.35 L185.66,549.12 L186.39,551.85 L187.12,554.53 L187.85,557.16 L188.58,559.73 L189.31,562.25 L190.04,564.71 L190.77,567.10 L191.50,569.44 L192.23,571.70 L192.96,573.90 L193.69,576.04 L194.42,578.10 L195.15,580.10 L195.88,582.03 L196.61,583.90 L197.34,585.69 L198.07,587.43 L198.80,589.10 L199.53,590.70 L200.26,592.25 L200.99,593.73 L201.72,595.16 L202.45,596.53 L203.18,597.85 L203.91,599.11 L204.64,600.33 L205.37,601.49 L206.10,602.61 L206.83,603.68 L207.56,604.71 L208.29,605.70 L209.02,606.65 L209.75,607.57 L210.48,608.44 L211.21,609.29 L211.94,610.10 L212.67,610.88 L213.40,611.63 L214.13,612.35 L214.86,613.04 L215.59,613.72 L216.32,614.36 L217.05,614.99 L217.78,615.59 L218.51,616.17 L219.24,616.73 L219.97,617.27 L220.70,617.79 L221.43,618.30 L222.16,618.78 L222.89,619.26 L223.62,619.71 L224.35,620.15 L225.08,620.58 L225.81,620.99 L226.54,621.39 L227.27,621.77 L228.00,622.14 L228.73,622.50 L229.46,622.85 L230.19,623.19 L230.92,623.51 L231.65,623.83 L232.38,624.13 L233.11,624.42 L233.84,624.71 L234.57,624.98 L235.30,625.25 L236.03,625.51 L236.76,625.76 L237.49,626.00 L238.22,626.24 L238.95,626.47 L239.68,626.69 L240.41,626.90 L241.14,627.11 L241.87,627.32 L242.60,627.52 L243.33,627.71 L244.06,627.90 L244.79,628.08 L245.52,628.26 L246.25,628.44 L246.98,628.61 L247.71,628.77 L248.44,628.93 L249.17,629.09 L249.90,629.24 L250.63,629.39 L251.36,629.54 L252.09,629.68 L252.82,629.81 L253.55,629.94 L254.28,630.06 L255.01,630.18 L255.74,630.30 L256.47,630.41 L257.20,630.51 L257.93,630.61 L258.66,630.71 L259.39,630.80 L260.12,630.88 L260.85,630.96 L261.58,631.03 L262.31,631.10 L263.04,631.16 L263.77,631.22 L264.50,631.27 L265.23,631.32 L265.96,631.36 L266.69,631.40 L267.42,631.44 L268.15,631.47 L268.88,631.50 L269.61,631.52 L270.34,631.55 L271.07,631.57 L271.80,631.59 L272.53,631.60 L273.26,631.62 L273.99,631.63 L274.72,631.64 L275.45,631.65 L276.18,631.67 L276.91,631.68 L277.64,631.69 L278.37,631.70 L279.10,631.71 L279.83,631.73 L280.56,631.74 L281.29,631.76 L282.02,631.78 L282.75,631.79 L283.48,631.81 L284.21,631.84 L284.94,631.86 L285.67,631.88 L286.40,631.91 L287.13,631.94 L287.86,631.96 L288.59,631.99 L289.32,632.03 L290.05,632.06 L290.78,632.09 L291.51,632.13 L292.24,632.17 L292.97,632.20 L293.70,632.24 L294.43,632.28 L295.16,632.32 L295.89,632.36 L296.62,632.41 L297.35,632.45 L298.08,632.49 L298.81,632.53 L299.54,632.58 L300.27,632.62 L301.00,632.67 L301.73,632.71 L302.46,632.76 L303.19,632.80 L303.92,632.84 L304.65,632.89 L305.38,632.93 L306.11,632.98 L306.84,633.02 L307.57,633.07 L308.30,633.11" stroke="#cce6ff" stroke-width="2.3" fill="none" stroke-linejoin="round"/>
<path d="M45.50,629.10 L46.23,629.06 L46.96,629.03 L47.69,628.99 L48.42,628.95 L49.15,628.91 L49.88,628.87 L50.61,628.83 L51.34,628.79 L52.07,628.75 L52.80,628.71 L53.53,628.66 L54.26,628.62 L54.99,628.58 L55.72,628.53 L56.45,628.49 L57.18,628.44 L57.91,628.39 L58.64,628.34 L59.37,628.30 L60.10,628.25 L60.83,628.20 L61.56,628.15 L62.29,628.09 L63.02,628.04 L63.75,627.99 L64.48,627.93 L65.21,627.88 L65.94,627.82 L66.67,627.77 L67.40,627.71 L68.13,627.65 L68.86,627.59 L69.59,627.53 L70.32,627.46 L71.05,627.40 L71.78,627.33 L72.51,627.27 L73.24,627.20 L73.97,627.13 L74.70,627.06 L75.43,626.99 L76.16,626.92 L76.89,626.84 L77.62,626.77 L78.35,626.69 L79.08,626.61 L79.81,626.53 L80.54,626.45 L81.27,626.36 L82.00,626.28 L82.73,626.19 L83.46,626.10 L84.19,626.01 L84.92,625.92 L85.65,625.82 L86.38,625.72 L87.11,625.62 L87.84,625.52 L88.57,625.42 L89.30,625.31 L90.03,625.20 L90.76,625.09 L91.49,624.98 L92.22,624.86 L92.95,624.74 L93.68,624.62 L94.41,624.49 L95.14,624.36 L95.87,624.23 L96.60,624.09 L97.33,623.95 L98.06,623.81 L98.79,623.66 L99.52,623.50 L100.25,623.35 L100.98,623.18 L101.71,623.01 L102.44,622.84 L103.17,622.66 L103.90,622.47 L104.63,622.28 L105.36,622.08 L106.09,621.87 L106.82,621.65 L107.55,621.42 L108.28,621.18 L109.01,620.92 L109.74,620.66 L110.47,620.38 L111.20,620.09 L111.93,619.78 L112.66,619.45 L113.39,619.10 L114.12,618.74 L114.85,618.35 L115.58,617.93 L116.31,617.49 L117.04,617.02 L117.77,616.52 L118.50,615.99 L119.23,615.42 L119.96,614.81 L120.69,614.17 L121.42,613.47 L122.15,612.74 L122.88,611.95 L123.61,611.11 L124.34,610.22 L125.07,609.27 L125.80,608.25 L126.53,607.17 L127.26,606.03 L127.99,604.81 L128.72,603.52 L129.45,602.15 L130.18,600.71 L130.91,599.18 L131.64,597.57 L132.37,595.88 L133.10,594.10 L133.83,592.23 L134.56,590.27 L135.29,588.22 L136.02,586.08 L136.75,583.86 L137.48,581.54 L138.21,579.14 L138.94,576.65 L139.67,574.08 L140.40,571.43 L141.13,568.71 L141.86,565.92 L142.59,563.06 L143.32,560.14 L144.05,557.17 L144.78,554.16 L145.51,551.11 L146.24,548.03 L146.97,544.94 L147.70,541.84 L148.43,538.75 L149.16,535.68 L149.89,532.64 L150.62,529.64 L151.35,526.69 L152.08,523.82 L152.81,521.03 L153.54,518.34 L154.27,515.75 L155.00,513.29 L155.73,510.96 L156.46,508.77 L157.19,506.74 L157.92,504.87 L158.65,503.17 L159.38,501.64 L160.11,500.31 L160.84,499.16 L161.57,498.20 L162.30,497.45 L163.03,496.90 L163.76,496.55 L164.49,496.40 L165.22,496.47 L165.95,496.73 L166.68,497.19 L167.41,497.84 L168.14,498.69 L168.87,499.72 L169.60,500.93 L170.33,502.32 L171.06,503.87 L171.79,505.57 L172.52,507.42 L173.25,509.40 L173.98,511.49 L174.71,513.70 L175.44,516.00 L176.17,518.38 L176.90,520.83 L177.63,523.34 L178.36,525.89 L179.09,528.49 L179.82,531.11 L180.55,533.75 L181.28,536.41 L182.01,539.06 L182.74,541.72 L183.47,544.36 L184.20,546.99 L184.93,549.60 L185.66,552.18 L186.39,554.73 L187.12,557.25 L187.85,559.74 L188.58,562.18 L189.31,564.59 L190.04,566.94 L190.77,569.25 L191.50,571.51 L192.23,573.72 L192.96,575.88 L193.69,577.98 L194.42,580.03 L195.15,582.02 L195.88,583.96 L196.61,585.84 L197.34,587.66 L198.07,589.42 L198.80,591.12 L199.53,592.77 L200.26,594.36 L200.99,595.89 L201.72,597.36 L202.45,598.78 L203.18,600.15 L203.91,601.46 L204.64,602.71 L205.37,603.92 L206.10,605.07 L206.83,606.18 L207.56,607.23 L208.29,608.24 L209.02,609.20 L209.75,610.12 L210.48,611.00 L211.21,611.83 L211.94,612.63 L212.67,613.38 L213.40,614.10 L214.13,614.79 L214.86,615.44 L215.59,616.06 L216.32,616.64 L217.05,617.20 L217.78,617.73 L218.51,618.23 L219.24,618.71 L219.97,619.17 L220.70,619.60 L221.43,620.01 L222.16,620.40 L222.89,620.77 L223.62,621.12 L224.35,621.45 L225.08,621.77 L225.81,622.08 L226.54,622.37 L227.27,622.64 L228.00,622.91 L228.73,623.16 L229.46,623.40 L230.19,623.63 L230.92,623.85 L231.65,624.07 L232.38,624.27 L233.11,624.47 L233.84,624.66 L234.57,624.84 L235.30,625.01 L236.03,625.18 L236.76,625.34 L237.49,625.50 L238.22,625.66 L238.95,625.80 L239.68,625.95 L240.41,626.09 L241.14,626.22 L241.87,626.35 L242.60,626.48 L243.33,626.60 L244.06,626.72 L244.79,626.84 L245.52,626.96 L246.25,627.07 L246.98,627.17 L247.71,627.28 L248.44,627.38 L249.17,627.48 L249.90,627.58 L250.63,627.68 L251.36,627.77 L252.09,627.86 L252.82,627.95 L253.55,628.03 L254.28,628.12 L255.01,628.20 L255.74,628.28 L256.47,628.35 L257.20,628.43 L257.93,628.50 L258.66,628.57 L259.39,628.64 L260.12,628.70 L260.85,628.77 L261.58,628.83 L262.31,628.89 L263.04,628.95 L263.77,629.00 L264.50,629.06 L265.23,629.11 L265.96,629.16 L266.69,629.21 L267.42,629.25 L268.15,629.30 L268.88,629.34 L269.61,629.38 L270.34,629.42 L271.07,629.45 L271.80,629.48 L272.53,629.52 L273.26,629.54 L273.99,629.57 L274.72,629.60 L275.45,629.62 L276.18,629.64 L276.91,629.66 L277.64,629.67 L278.37,629.68 L279.10,629.70 L279.83,629.70 L280.56,629.71 L281.29,629.71 L282.02,629.72 L282.75,629.72 L283.48,629.71 L284.21,629.71 L284.94,629.70 L285.67,629.69 L286.40,629.68 L287.13,629.67 L287.86,629.65 L288.59,629.63 L289.32,629.61 L290.05,629.59 L290.78,629.57 L291.51,629.54 L292.24,629.52 L292.97,629.49 L293.70,629.46 L294.43,629.43 L295.16,629.40 L295.89,629.37 L296.62,629.33 L297.35,629.30 L298.08,629.26 L298.81,629.23 L299.54,629.19 L300.27,629.16 L301.00,629.12 L301.73,629.08 L302.46,629.04 L303.19,629.01 L303.92,628.97 L304.65,628.93 L305.38,628.90 L306.11,628.86 L306.84,628.82 L307.57,628.79 L308.30,628.75" stroke="#ff0000" stroke-width="2.3" fill="none" stroke-linejoin="round"/>
<path d="M45.50,625.51 L46.23,625.50 L46.96,625.49 L47.69,625.48 L48.42,625.47 L49.15,625.46 L49.88,625.45 L50.61,625.44 L51.34,625.43 L52.07,625.42 L52.80,625.41 L53.53,625.40 L54.26,625.39 L54.99,625.38 L55.72,625.36 L56.45,625.35 L57.18,625.34 L57.91,625.33 L58.64,625.32 L59.37,625.30 L60.10,625.29 L60.83,625.28 L61.56,625.27 L62.29,625.25 L63.02,625.24 L63.75,625.23 L64.48,625.22 L65.21,625.20 L65.94,625.19 L66.67,625.18 L67.40,625.17 L68.13,625.15 L68.86,625.14 L69.59,625.12 L70.32,625.11 L71.05,625.10 L71.78,625.08 L72.51,625.06 L73.24,625.05 L73.97,625.03 L74.70,625.01 L75.43,624.99 L76.16,624.97 L76.89,624.94 L77.62,624.92 L78.35,624.89 L79.08,624.87 L79.81,624.83 L80.54,624.80 L81.27,624.77 L82.00,624.73 L82.73,624.69 L83.46,624.65 L84.19,624.60 L84.92,624.55 L85.65,624.50 L86.38,624.44 L87.11,624.38 L87.84,624.31 L88.57,624.25 L89.30,624.18 L90.03,624.10 L90.76,624.02 L91.49,623.93 L92.22,623.85 L92.95,623.75 L93.68,623.66 L94.41,623.55 L95.14,623.45 L95.87,623.34 L96.60,623.22 L97.33,623.10 L98.06,622.97 L98.79,622.84 L99.52,622.71 L100.25,622.56 L100.98,622.42 L101.71,622.26 L102.44,622.11 L103.17,621.94 L103.90,621.77 L104.63,621.59 L105.36,621.41 L106.09,621.21 L106.82,621.01 L107.55,620.80 L108.28,620.58 L109.01,620.36 L109.74,620.12 L110.47,619.86 L111.20,619.60 L111.93,619.32 L112.66,619.03 L113.39,618.73 L114.12,618.40 L114.85,618.06 L115.58,617.70 L116.31,617.32 L117.04,616.92 L117.77,616.49 L118.50,616.04 L119.23,615.56 L119.96,615.06 L120.69,614.52 L121.42,613.96 L122.15,613.36 L122.88,612.72 L123.61,612.05 L124.34,611.34 L125.07,610.59 L125.80,609.79 L126.53,608.95 L127.26,608.07 L127.99,607.14 L128.72,606.15 L129.45,605.12 L130.18,604.03 L130.91,602.89 L131.64,601.69 L132.37,600.43 L133.10,599.12 L133.83,597.74 L134.56,596.30 L135.29,594.80 L136.02,593.24 L136.75,591.61 L137.48,589.92 L138.21,588.16 L138.94,586.34 L139.67,584.45 L140.40,582.50 L141.13,580.48 L141.86,578.40 L142.59,576.26 L143.32,574.06 L144.05,571.81 L144.78,569.50 L145.51,567.13 L146.24,564.72 L146.97,562.26 L147.70,559.77 L148.43,557.23 L149.16,554.68 L149.89,552.09 L150.62,549.50 L151.35,546.90 L152.08,544.30 L152.81,541.72 L153.54,539.16 L154.27,536.65 L155.00,534.18 L155.73,531.78 L156.46,529.45 L157.19,527.23 L157.92,525.12 L158.65,523.14 L159.38,521.31 L160.11,519.64 L160.84,518.16 L161.57,516.87 L162.30,515.81 L163.03,514.96 L163.76,514.36 L164.49,514.00 L165.22,513.90 L165.95,514.02 L166.68,514.33 L167.41,514.82 L168.14,515.51 L168.87,516.37 L169.60,517.41 L170.33,518.62 L171.06,519.98 L171.79,521.49 L172.52,523.14 L173.25,524.91 L173.98,526.79 L174.71,528.76 L175.44,530.83 L176.17,532.96 L176.90,535.16 L177.63,537.40 L178.36,539.68 L179.09,541.98 L179.82,544.30 L180.55,546.62 L181.28,548.94 L182.01,551.24 L182.74,553.52 L183.47,555.78 L184.20,557.99 L184.93,560.17 L185.66,562.30 L186.39,564.38 L187.12,566.41 L187.85,568.38 L188.58,570.29 L189.31,572.13 L190.04,573.92 L190.77,575.65 L191.50,577.31 L192.23,578.91 L192.96,580.45 L193.69,581.93 L194.42,583.35 L195.15,584.71 L195.88,586.02 L196.61,587.28 L197.34,588.48 L198.07,589.64 L198.80,590.75 L199.53,591.82 L200.26,592.85 L200.99,593.84 L201.72,594.79 L202.45,595.71 L203.18,596.60 L203.91,597.46 L204.64,598.28 L205.37,599.09 L206.10,599.87 L206.83,600.62 L207.56,601.36 L208.29,602.07 L209.02,602.77 L209.75,603.44 L210.48,604.10 L211.21,604.75 L211.94,605.38 L212.67,605.99 L213.40,606.60 L214.13,607.18 L214.86,607.76 L215.59,608.32 L216.32,608.88 L217.05,609.42 L217.78,609.95 L218.51,610.47 L219.24,610.98 L219.97,611.47 L220.70,611.96 L221.43,612.44 L222.16,612.91 L222.89,613.36 L223.62,613.81 L224.35,614.25 L225.08,614.68 L225.81,615.10 L226.54,615.51 L227.27,615.91 L228.00,616.30 L228.73,616.68 L229.46,617.06 L230.19,617.42 L230.92,617.78 L231.65,618.12 L232.38,618.46 L233.11,618.79 L233.84,619.11 L234.57,619.43 L235.30,619.73 L236.03,620.03 L236.76,620.32 L237.49,620.61 L238.22,620.88 L238.95,621.15 L239.68,621.42 L240.41,621.67 L241.14,621.92 L241.87,622.16 L242.60,622.40 L243.33,622.63 L244.06,622.86 L244.79,623.08 L245.52,623.30 L246.25,623.51 L246.98,623.72 L247.71,623.92 L248.44,624.12 L249.17,624.31 L249.90,624.50 L250.63,624.69 L251.36,624.87 L252.09,625.05 L252.82,625.22 L253.55,625.40 L254.28,625.56 L255.01,625.73 L255.74,625.89 L256.47,626.05 L257.20,626.21 L257.93,626.37 L258.66,626.52 L259.39,626.67 L260.12,626.81 L260.85,626.96 L261.58,627.10 L262.31,627.23 L263.04,627.37 L263.77,627.50 L264.50,627.63 L265.23,627.76 L265.96,627.88 L266.69,628.00 L267.42,628.12 L268.15,628.24 L268.88,628.35 L269.61,628.46 L270.34,628.57 L271.07,628.67 L271.80,628.77 L272.53,628.87 L273.26,628.96 L273.99,629.06 L274.72,629.14 L275.45,629.23 L276.18,629.31 L276.91,629.39 L277.64,629.46 L278.37,629.54 L279.10,629.61 L279.83,629.67 L280.56,629.73 L281.29,629.79 L282.02,629.85 L282.75,629.90 L283.48,629.95 L284.21,630.00 L284.94,630.04 L285.67,630.08 L286.40,630.12 L287.13,630.16 L287.86,630.19 L288.59,630.22 L289.32,630.25 L290.05,630.27 L290.78,630.30 L291.51,630.32 L292.24,630.34 L292.97,630.36 L293.70,630.37 L294.43,630.39 L295.16,630.40 L295.89,630.41 L296.62,630.42 L297.35,630.44 L298.08,630.44 L298.81,630.45 L299.54,630.46 L300.27,630.47 L301.00,630.48 L301.73,630.49 L302.46,630.49 L303.19,630.50 L303.92,630.51 L304.65,630.52 L305.38,630.53 L306.11,630.54 L306.84,630.55 L307.57,630.56 L308.30,630.57" stroke="#00ff00" stroke-width="2.3" fill="none" stroke-linejoin="round"/>
<path d="M45.50,631.10 L46.23,631.08 L46.96,631.06 L47.69,631.04 L48.42,631.01 L49.15,630.99 L49.88,630.96 L50.61,630.94 L51.34,630.91 L52.07,630.89 L52.80,630.86 L53.53,630.83 L54.26,630.80 L54.99,630.77 L55.72,630.74 L56.45,630.71 L57.18,630.67 L57.91,630.64 L58.64,630.61 L59.37,630.57 L60.10,630.53 L60.83,630.50 L61.56,630.46 L62.29,630.42 L63.02,630.38 L63.75,630.34 L64.48,630.29 L65.21,630.25 L65.94,630.20 L66.67,630.16 L67.40,630.11 L68.13,630.06 L68.86,630.01 L69.59,629.96 L70.32,629.90 L71.05,629.85 L71.78,629.79 L72.51,629.73 L73.24,629.68 L73.97,629.61 L74.70,629.55 L75.43,629.49 L76.16,629.42 L76.89,629.35 L77.62,629.28 L78.35,629.20 L79.08,629.13 L79.81,629.05 L80.54,628.97 L81.27,628.89 L82.00,628.80 L82.73,628.71 L83.46,628.62 L84.19,628.53 L84.92,628.43 L85.65,628.33 L86.38,628.22 L87.11,628.11 L87.84,628.00 L88.57,627.89 L89.30,627.77 L90.03,627.64 L90.76,627.52 L91.49,627.38 L92.22,627.25 L92.95,627.10 L93.68,626.96 L94.41,626.80 L95.14,626.65 L95.87,626.48 L96.60,626.31 L97.33,626.14 L98.06,625.95 L98.79,625.76 L99.52,625.56 L100.25,625.35 L100.98,625.14 L101.71,624.91 L102.44,624.68 L103.17,624.44 L103.90,624.18 L104.63,623.91 L105.36,623.63 L106.09,623.34 L106.82,623.03 L107.55,622.71 L108.28,622.37 L109.01,622.02 L109.74,621.64 L110.47,621.25 L111.20,620.84 L111.93,620.41 L112.66,619.95 L113.39,619.47 L114.12,618.96 L114.85,618.43 L115.58,617.87 L116.31,617.28 L117.04,616.66 L117.77,616.00 L118.50,615.32 L119.23,614.59 L119.96,613.83 L120.69,613.04 L121.42,612.20 L122.15,611.32 L122.88,610.40 L123.61,609.43 L124.34,608.42 L125.07,607.37 L125.80,606.27 L126.53,605.12 L127.26,603.92 L127.99,602.67 L128.72,601.37 L129.45,600.02 L130.18,598.62 L130.91,597.18 L131.64,595.68 L132.37,594.13 L133.10,592.53 L133.83,590.88 L134.56,589.19 L135.29,587.45 L136.02,585.66 L136.75,583.83 L137.48,581.96 L138.21,580.05 L138.94,578.10 L139.67,576.12 L140.40,574.11 L141.13,572.07 L141.86,570.01 L142.59,567.93 L143.32,565.83 L144.05,563.72 L144.78,561.60 L145.51,559.48 L146.24,557.37 L146.97,555.26 L147.70,553.17 L148.43,551.09 L149.16,549.04 L149.89,547.03 L150.62,545.05 L151.35,543.11 L152.08,541.22 L152.81,539.39 L153.54,537.62 L154.27,535.91 L155.00,534.28 L155.73,532.72 L156.46,531.24 L157.19,529.85 L157.92,528.54 L158.65,527.33 L159.38,526.22 L160.11,525.21 L160.84,524.31 L161.57,523.53 L162.30,522.85 L163.03,522.30 L163.76,521.88 L164.49,521.59 L165.22,521.43 L165.95,521.41 L166.68,521.51 L167.41,521.75 L168.14,522.11 L168.87,522.59 L169.60,523.20 L170.33,523.94 L171.06,524.79 L171.79,525.76 L172.52,526.83 L173.25,528.01 L173.98,529.29 L174.71,530.66 L175.44,532.11 L176.17,533.64 L176.90,535.23 L177.63,536.89 L178.36,538.60 L179.09,540.36 L179.82,542.16 L180.55,544.00 L181.28,545.87 L182.01,547.76 L182.74,549.67 L183.47,551.60 L184.20,553.54 L184.93,555.48 L185.66,557.43 L186.39,559.37 L187.12,561.31 L187.85,563.23 L188.58,565.14 L189.31,567.04 L190.04,568.91 L190.77,570.76 L191.50,572.58 L192.23,574.37 L192.96,576.12 L193.69,577.85 L194.42,579.54 L195.15,581.19 L195.88,582.80 L196.61,584.37 L197.34,585.90 L198.07,587.39 L198.80,588.84 L199.53,590.25 L200.26,591.61 L200.99,592.93 L201.72,594.22 L202.45,595.46 L203.18,596.66 L203.91,597.82 L204.64,598.94 L205.37,600.03 L206.10,601.08 L206.83,602.09 L207.56,603.07 L208.29,604.02 L209.02,604.93 L209.75,605.82 L210.48,606.68 L211.21,607.50 L211.94,608.30 L212.67,609.08 L213.40,609.83 L214.13,610.56 L214.86,611.27 L215.59,611.95 L216.32,612.62 L217.05,613.27 L217.78,613.89 L218.51,614.51 L219.24,615.10 L219.97,615.68 L220.70,616.25 L221.43,616.80 L222.16,617.34 L222.89,617.86 L223.62,618.38 L224.35,618.88 L225.08,619.37 L225.81,619.85 L226.54,620.32 L227.27,620.78 L228.00,621.23 L228.73,621.67 L229.46,622.10 L230.19,622.52 L230.92,622.93 L231.65,623.33 L232.38,623.73 L233.11,624.11 L233.84,624.49 L234.57,624.86 L235.30,625.22 L236.03,625.58 L236.76,625.92 L237.49,626.26 L238.22,626.59 L238.95,626.91 L239.68,627.22 L240.41,627.53 L241.14,627.83 L241.87,628.12 L242.60,628.40 L243.33,628.68 L244.06,628.94 L244.79,629.20 L245.52,629.46 L246.25,629.70 L246.98,629.94 L247.71,630.17 L248.44,630.40 L249.17,630.61 L249.90,630.82 L250.63,631.03 L251.36,631.22 L252.09,631.41 L252.82,631.59 L253.55,631.77 L254.28,631.94 L255.01,632.10 L255.74,632.26 L256.47,632.41 L257.20,632.56 L257.93,632.70 L258.66,632.83 L259.39,632.96 L260.12,633.08 L260.85,633.20 L261.58,633.32 L262.31,633.43 L263.04,633.53 L263.77,633.63 L264.50,633.73 L265.23,633.82 L265.96,633.91 L266.69,633.99 L267.42,634.08 L268.15,634.16 L268.88,634.23 L269.61,634.30 L270.34,634.38 L271.07,634.44 L271.80,634.51 L272.53,634.57 L273.26,634.63 L273.99,634.69 L274.72,634.75 L275.45,634.81 L276.18,634.86 L276.91,634.92 L277.64,634.97 L278.37,635.02 L279.10,635.07 L279.83,635.12 L280.56,635.17 L281.29,635.22 L282.02,635.27 L282.75,635.32 L283.48,635.36 L284.21,635.41 L284.94,635.46 L285.67,635.51 L286.40,635.55 L287.13,635.60 L287.86,635.65 L288.59,635.70 L289.32,635.75 L290.05,635.80 L290.78,635.84 L291.51,635.89 L292.24,635.94 L292.97,635.99 L293.70,636.05 L294.43,636.10 L295.16,636.15 L295.89,636.20 L296.62,636.25 L297.35,636.31 L298.08,636.36 L298.81,636.41 L299.54,636.47 L300.27,636.52 L301.00,636.58 L301.73,636.63 L302.46,636.69 L303.19,636.74 L303.92,636.80 L304.65,636.86 L305.38,636.91 L306.11,636.97 L306.84,637.03 L307.57,637.08 L308.30,637.14" stroke="#1f5c99" stroke-width="2.3" fill="none" stroke-linejoin="round"/>
<path d="M242.7,434.9 H271.9" stroke="#0000ff" stroke-width="2.2"/>
<text transform="translate(273.80,437.60) scale(1,1.1)" font-size="12.3" text-anchor="start" font-weight="normal" >30</text>
<path d="M242.7,455.9 H271.9" stroke="#ff66ff" stroke-width="2.2"/>
<text transform="translate(273.80,458.60) scale(1,1.1)" font-size="12.3" text-anchor="start" font-weight="normal" >40</text>
<path d="M242.7,477.2 H271.9" stroke="#ffff00" stroke-width="2.2"/>
<text transform="translate(273.80,479.90) scale(1,1.1)" font-size="12.3" text-anchor="start" font-weight="normal" >60</text>
<path d="M242.7,497.9 H271.9" stroke="#cce6ff" stroke-width="2.2"/>
<text transform="translate(273.80,500.60) scale(1,1.1)" font-size="12.3" text-anchor="start" font-weight="normal" >70</text>
<path d="M242.7,519.2 H271.9" stroke="#ff0000" stroke-width="2.2"/>
<text transform="translate(273.80,521.90) scale(1,1.1)" font-size="12.3" text-anchor="start" font-weight="normal" >80</text>
<path d="M242.7,540.3 H271.9" stroke="#00ff00" stroke-width="2.2"/>
<text transform="translate(273.80,543.00) scale(1,1.1)" font-size="12.3" text-anchor="start" font-weight="normal" >90</text>
<path d="M242.7,561.8 H271.9" stroke="#1f5c99" stroke-width="2.2"/>
<text transform="translate(273.80,564.50) scale(1,1.1)" font-size="12.3" text-anchor="start" font-weight="normal" >100</text>
<path d="M408.0,358.5 V641.5" stroke="#888888" stroke-width="1" fill="none"/>
<path d="M403.5,637.5 H675.5 V641.5" stroke="#888888" stroke-width="1" fill="none"/>
<text transform="translate(396.50,643.00) scale(1,1.1)" font-size="12.3" text-anchor="end" font-weight="normal" >0</text>
<path d="M403.5,602.5 H407.5" stroke="#888888" stroke-width="1"/>
<text transform="translate(396.50,608.00) scale(1,1.1)" font-size="12.3" text-anchor="end" font-weight="normal" >5</text>
<path d="M403.5,567.5 H407.5" stroke="#888888" stroke-width="1"/>
<text transform="translate(396.50,573.00) scale(1,1.1)" font-size="12.3" text-anchor="end" font-weight="normal" >10</text>
<path d="M403.5,532.5 H407.5" stroke="#888888" stroke-width="1"/>
<text transform="translate(396.50,538.00) scale(1,1.1)" font-size="12.3" text-anchor="end" font-weight="normal" >15</text>
<path d="M403.5,498.5 H407.5" stroke="#888888" stroke-width="1"/>
<text transform="translate(396.50,504.00) scale(1,1.1)" font-size="12.3" text-anchor="end" font-weight="normal" >20</text>
<path d="M403.5,463.5 H407.5" stroke="#888888" stroke-width="1"/>
<text transform="translate(396.50,469.00) scale(1,1.1)" font-size="12.3" text-anchor="end" font-weight="normal" >25</text>
<path d="M403.5,428.5 H407.5" stroke="#888888" stroke-width="1"/>
<text transform="translate(396.50,434.00) scale(1,1.1)" font-size="12.3" text-anchor="end" font-weight="normal" >30</text>
<path d="M403.5,393.5 H407.5" stroke="#888888" stroke-width="1"/>
<text transform="translate(396.50,399.00) scale(1,1.1)" font-size="12.3" text-anchor="end" font-weight="normal" >35</text>
<path d="M403.5,358.5 H407.5" stroke="#888888" stroke-width="1"/>
<text transform="translate(396.50,364.00) scale(1,1.1)" font-size="12.3" text-anchor="end" font-weight="normal" >40</text>
<text transform="translate(408.00,656.90) scale(1,1.1)" font-size="12.3" text-anchor="middle" font-weight="normal" >0</text>
<path d="M452.5,637.5 V641.5" stroke="#888888" stroke-width="1"/>
<text transform="translate(452.58,656.90) scale(1,1.1)" font-size="12.3" text-anchor="middle" font-weight="normal" >20</text>
<path d="M497.5,637.5 V641.5" stroke="#888888" stroke-width="1"/>
<text transform="translate(497.17,656.90) scale(1,1.1)" font-size="12.3" text-anchor="middle" font-weight="normal" >40</text>
<path d="M541.5,637.5 V641.5" stroke="#888888" stroke-width="1"/>
<text transform="translate(541.75,656.90) scale(1,1.1)" font-size="12.3" text-anchor="middle" font-weight="normal" >60</text>
<path d="M586.5,637.5 V641.5" stroke="#888888" stroke-width="1"/>
<text transform="translate(586.33,656.90) scale(1,1.1)" font-size="12.3" text-anchor="middle" font-weight="normal" >80</text>
<path d="M630.5,637.5 V641.5" stroke="#888888" stroke-width="1"/>
<text transform="translate(630.92,656.90) scale(1,1.1)" font-size="12.3" text-anchor="middle" font-weight="normal" >100</text>
<text transform="translate(675.50,656.90) scale(1,1.1)" font-size="12.3" text-anchor="middle" font-weight="normal" >120</text>
<text x="534.00" y="678.60" font-size="14" text-anchor="middle" font-weight="normal" >Concentration of CA-15-3 (nU/mL)</text>
<text transform="translate(365.75,490.3) rotate(-90)" font-size="14" text-anchor="middle">I(μA)</text>
<text x="422.00" y="383.80" font-size="16.3" text-anchor="start" font-weight="bold" >D</text>
<path d="M474.5,401.5 V418.5 M471.0,401.5 H478.0 M471.0,418.5 H478.0" stroke="#808080" stroke-width="1" fill="none"/>
<circle cx="474.88" cy="410.12" r="3.6" fill="#ff0000"/>
<path d="M497.5,428.5 V431.5 M494.0,428.5 H501.0 M494.0,431.5 H501.0" stroke="#808080" stroke-width="1" fill="none"/>
<circle cx="497.17" cy="429.64" r="3.6" fill="#ff0000"/>
<path d="M541.5,474.5 V480.5 M538.0,474.5 H545.0 M538.0,480.5 H545.0" stroke="#808080" stroke-width="1" fill="none"/>
<circle cx="541.75" cy="477.77" r="3.6" fill="#ff0000"/>
<path d="M564.5,492.5 V504.5 M561.0,492.5 H568.0 M561.0,504.5 H568.0" stroke="#808080" stroke-width="1" fill="none"/>
<circle cx="564.04" cy="498.28" r="3.6" fill="#ff0000"/>
<path d="M586.5,517.5 V520.5 M583.0,517.5 H590.0 M583.0,520.5 H590.0" stroke="#808080" stroke-width="1" fill="none"/>
<circle cx="586.33" cy="519.34" r="3.6" fill="#ff0000"/>
<path d="M608.5,528.5 V538.5 M605.0,528.5 H612.0 M605.0,538.5 H612.0" stroke="#808080" stroke-width="1" fill="none"/>
<circle cx="608.62" cy="533.57" r="3.6" fill="#ff0000"/>
<path d="M630.5,537.5 V544.5 M627.0,537.5 H634.0 M627.0,544.5 H634.0" stroke="#808080" stroke-width="1" fill="none"/>
<circle cx="630.92" cy="541.04" r="3.6" fill="#ff0000"/>
<path d="M474.88,414.01 L630.92,551.89" stroke="#0000ff" stroke-width="2.2" stroke-dasharray="0 3.9" stroke-linecap="round" fill="none"/>
<text transform="translate(486.50,570.20) scale(1,1.1)" font-size="12.6" text-anchor="start" font-weight="normal" >y = -0.2824x + 40.514</text>
<text transform="translate(513.00,584.40) scale(1,1.1)" font-size="12.6" text-anchor="start" font-weight="normal" >R<tspan font-size="8" dy="-3.8">2</tspan><tspan dy="3.8"> = 0.9841</tspan></text>
</svg>
</body></html>
